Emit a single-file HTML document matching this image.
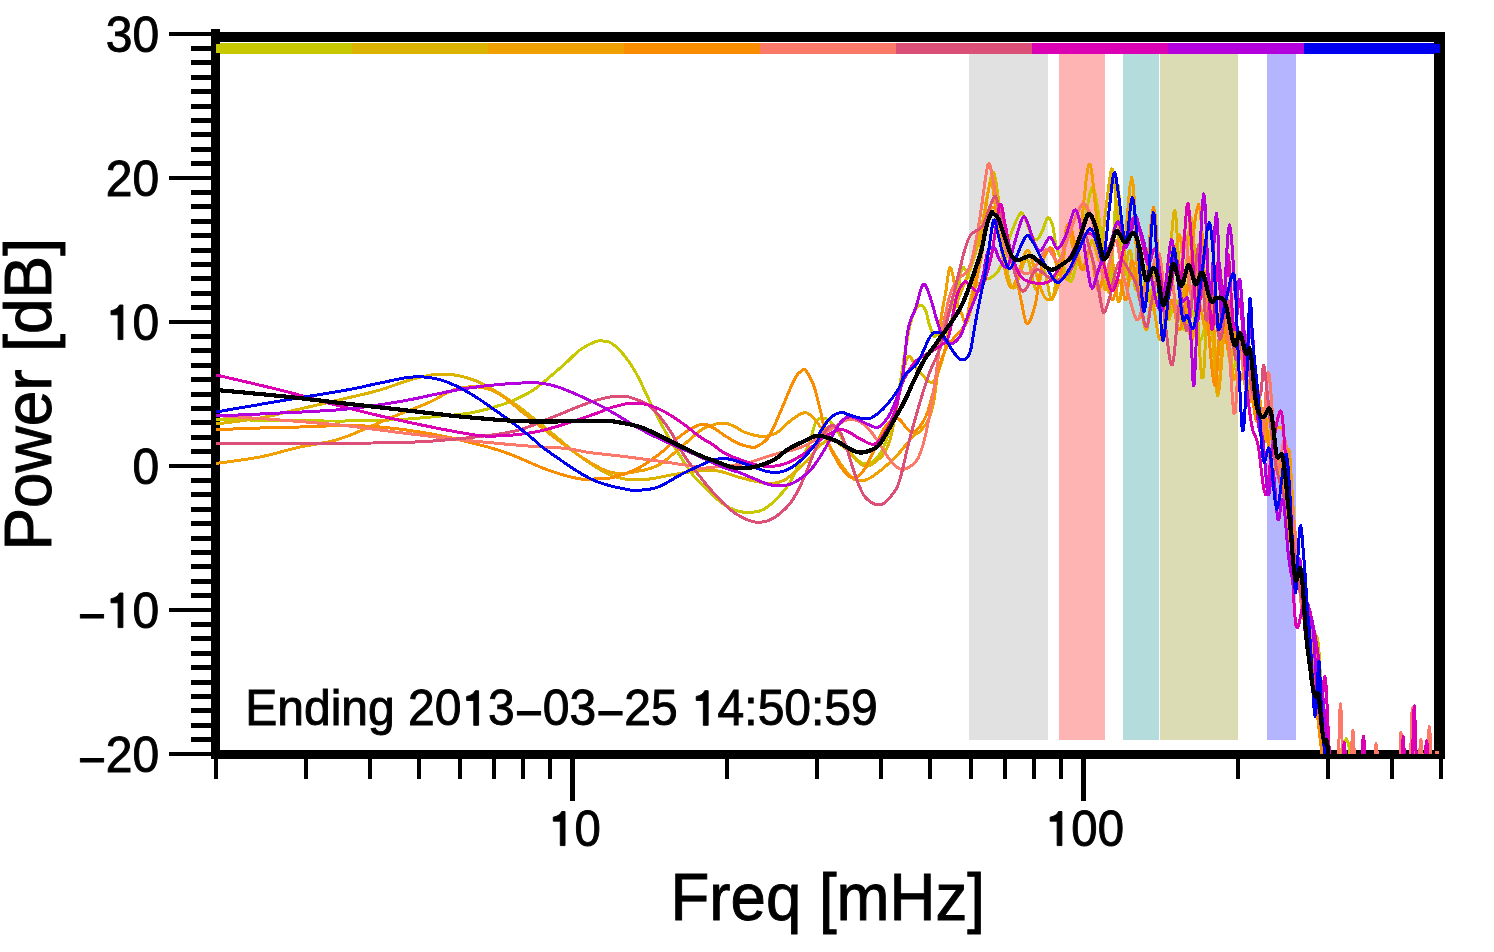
<!DOCTYPE html><html><head><meta charset="utf-8"><style>html,body{margin:0;padding:0;background:#fff;width:1494px;height:952px;overflow:hidden}svg{display:block}</style></head><body><svg width="1494" height="952" viewBox="0 0 1494 952"><defs><clipPath id="clip"><rect x="216" y="37" width="1224" height="717"/></clipPath></defs><rect x="969" y="54" width="79" height="686" fill="#e1e1e1"/><rect x="1059" y="54" width="46" height="686" fill="#ffb4b4"/><rect x="1123" y="54" width="36" height="686" fill="#b4dcdc"/><rect x="1160" y="54" width="78" height="686" fill="#dcdcb4"/><rect x="1267" y="54" width="29" height="686" fill="#b4b4ff"/><rect x="211" y="29" width="9" height="730" fill="#000"/><rect x="211" y="32" width="1234" height="10" fill="#000"/><rect x="1434" y="32" width="11" height="727" fill="#000"/><rect x="211" y="750" width="1234" height="9" fill="#000"/><rect x="220" y="43" width="132" height="11" fill="#c8c800"/><rect x="352" y="43" width="136" height="11" fill="#dcb300"/><rect x="488" y="43" width="136" height="11" fill="#f0a000"/><rect x="624" y="43" width="136" height="11" fill="#fa8c00"/><rect x="760" y="43" width="136" height="11" fill="#fc7868"/><rect x="896" y="43" width="136" height="11" fill="#dc5078"/><rect x="1032" y="43" width="136" height="11" fill="#dc00b4"/><rect x="1168" y="43" width="136" height="11" fill="#b400dc"/><rect x="1304" y="43" width="130" height="11" fill="#0000f0"/><rect x="216" y="44" width="4" height="9" fill="#c8c800"/><rect x="1434" y="44" width="6" height="9" fill="#0000f0"/><g clip-path="url(#clip)"><path d="M216.0,419.3 L223.0,419.4 L232.6,419.6 L243.9,419.9 L256.2,420.1 L268.5,420.3 L280.0,420.5 L290.9,420.6 L302.0,420.8 L313.1,420.9 L324.0,421.0 L334.7,421.0 L345.0,421.0 L354.9,420.9 L364.6,420.7 L374.0,420.5 L383.1,420.2 L391.8,419.9 L400.0,419.5 L407.8,419.0 L415.1,418.5 L422.1,417.8 L428.7,417.2 L435.0,416.6 L441.0,416.0 L446.5,415.5 L451.4,415.2 L455.9,414.8 L460.4,414.4 L465.0,413.8 L470.0,413.0 L475.5,411.9 L481.3,410.6 L487.2,409.1 L493.1,407.4 L498.7,405.7 L504.0,404.0 L508.9,402.2 L513.6,400.3 L518.0,398.3 L522.2,396.2 L526.2,394.1 L530.0,392.0 L533.5,389.8 L536.6,387.7 L539.5,385.4 L542.3,383.1 L545.1,380.8 L548.0,378.4 L551.0,375.9 L554.1,373.2 L557.2,370.5 L560.3,367.9 L563.2,365.3 L566.0,362.8 L568.6,360.4 L570.9,358.1 L573.2,355.9 L575.4,353.8 L577.7,351.8 L580.0,350.0 L582.5,348.3 L585.0,346.7 L587.6,345.3 L590.1,344.0 L592.4,342.9 L594.5,342.0 L596.3,341.4 L597.8,341.0 L599.2,340.9 L600.4,340.9 L601.7,340.9 L603.0,341.0 L604.3,341.1 L605.6,341.1 L606.8,341.2 L608.1,341.6 L609.4,342.1 L611.0,343.0 L612.8,344.2 L614.7,345.7 L616.7,347.4 L618.8,349.4 L620.9,351.6 L623.0,354.0 L625.1,356.5 L627.1,359.2 L629.2,362.1 L631.4,365.3 L633.6,368.9 L636.0,373.0 L638.5,377.7 L641.1,383.0 L643.7,388.6 L646.4,394.5 L649.2,400.3 L652.0,406.0 L654.8,411.5 L657.6,417.0 L660.4,422.5 L663.4,428.0 L666.4,433.5 L669.5,439.0 L672.9,444.7 L676.7,450.7 L680.5,456.7 L684.2,462.4 L687.6,467.4 L690.5,471.6 L692.7,474.7 L694.5,476.9 L696.0,478.5 L697.3,479.8 L698.5,481.0 L700.0,482.5 L701.5,484.1 L703.0,485.7 L704.5,487.2 L706.0,488.7 L707.7,490.3 L709.5,492.0 L711.6,494.0 L713.9,496.1 L716.3,498.3 L718.7,500.5 L721.2,502.5 L723.6,504.3 L726.0,505.8 L728.3,507.1 L730.7,508.3 L733.1,509.4 L735.4,510.3 L737.8,511.0 L740.2,511.6 L742.5,512.0 L744.9,512.3 L747.3,512.5 L749.6,512.5 L752.0,512.3 L754.3,512.0 L756.7,511.6 L759.0,511.1 L761.3,510.3 L763.7,509.3 L766.0,508.0 L768.4,506.3 L770.9,504.2 L773.4,501.9 L775.9,499.5 L778.2,497.1 L780.3,494.8 L782.2,492.8 L783.8,490.9 L785.4,489.0 L786.8,487.1 L788.3,484.9 L789.8,482.5 L791.3,479.7 L792.9,476.7 L794.4,473.5 L795.9,470.1 L797.4,466.8 L799.0,463.6 L800.6,460.5 L802.3,457.4 L804.0,454.4 L805.6,451.3 L807.2,448.1 L808.7,444.7 L810.1,440.9 L811.3,436.6 L812.5,432.3 L813.6,428.1 L814.8,424.5 L816.0,421.8 L817.3,420.1 L818.5,419.0 L819.8,418.6 L821.1,418.4 L822.4,418.5 L823.6,418.6 L824.7,418.7 L825.8,418.8 L826.9,419.2 L828.0,419.8 L829.1,420.7 L830.5,422.0 L832.0,423.8 L833.7,426.0 L835.5,428.5 L837.4,431.2 L839.2,434.0 L841.0,436.7 L842.8,439.5 L844.5,442.4 L846.2,445.4 L848.0,448.4 L849.8,451.1 L851.5,453.5 L853.2,455.6 L855.0,457.6 L856.8,459.4 L858.5,460.9 L860.2,462.1 L862.0,463.0 L863.8,463.6 L865.5,463.9 L867.2,463.9 L869.0,463.7 L870.8,463.0 L872.5,462.0 L874.2,460.7 L876.0,459.0 L877.8,457.1 L879.5,454.7 L881.2,451.8 L883.0,448.3 L884.8,444.1 L886.7,439.1 L888.5,433.7 L890.3,428.0 L892.0,422.3 L893.5,416.8 L894.8,411.6 L895.9,406.5 L896.9,401.4 L897.8,396.2 L898.8,390.8 L899.8,385.0 L900.9,378.7 L901.9,371.8 L903.0,364.7 L904.1,357.7 L905.2,351.0 L906.2,345.0 L907.2,339.6 L908.1,334.5 L909.1,329.8 L910.0,325.4 L911.0,321.5 L912.0,318.0 L913.1,314.9 L914.2,312.1 L915.4,309.8 L916.6,307.9 L917.8,306.4 L918.9,305.5 L920.0,305.1 L921.1,305.2 L922.2,305.8 L923.2,306.7 L924.2,308.1 L925.2,309.7 L926.1,311.9 L926.9,314.7 L927.7,317.9 L928.4,321.1 L929.2,324.2 L930.0,326.7 L930.8,329.0 L931.6,331.4 L932.3,333.5 L933.2,335.2 L934.2,336.2 L935.3,336.2 L936.6,335.1 L938.1,332.9 L939.8,330.1 L941.5,326.8 L943.2,323.4 L945.0,320.0 L946.9,316.6 L948.9,313.1 L950.9,309.3 L952.9,305.4 L954.8,301.4 L956.3,297.3 L957.5,292.7 L958.6,287.6 L959.4,282.3 L960.1,277.3 L960.8,273.1 L961.5,270.0 L962.1,268.2 L962.7,267.4 L963.2,267.3 L963.6,267.7 L964.1,268.4 L964.7,269.0 L965.3,269.7 L966.0,270.8 L966.6,272.0 L967.3,273.5 L968.1,274.9 L968.9,276.3 L969.8,277.8 L970.8,279.5 L971.9,281.2 L973.0,282.8 L974.0,284.2 L975.0,285.0 L975.9,285.3 L976.7,285.2 L977.6,284.8 L978.4,284.2 L979.2,283.5 L980.0,283.0 L980.8,282.5 L981.6,281.9 L982.4,281.3 L983.3,280.7 L984.1,280.1 L985.0,279.6 L985.9,279.3 L986.9,279.0 L987.8,278.9 L988.8,278.7 L989.9,278.3 L991.0,277.6 L992.2,276.7 L993.6,275.7 L995.0,274.5 L996.4,273.2 L997.8,271.6 L999.0,269.7 L1000.1,267.5 L1001.1,265.1 L1002.1,262.4 L1003.1,259.6 L1004.0,256.7 L1005.0,253.7 L1006.0,250.6 L1006.9,247.4 L1007.8,244.0 L1008.8,240.6 L1009.8,237.2 L1011.0,233.8 L1012.4,230.2 L1013.9,226.3 L1015.5,222.3 L1017.1,218.7 L1018.6,215.7 L1019.9,213.8 L1020.9,212.9 L1021.8,212.9 L1022.6,213.6 L1023.3,214.7 L1024.1,216.2 L1024.9,217.8 L1025.8,219.9 L1026.8,222.6 L1027.8,225.7 L1028.9,228.8 L1029.9,231.6 L1030.9,233.8 L1031.9,235.6 L1032.9,237.1 L1033.9,238.4 L1034.9,239.3 L1035.9,239.7 L1036.9,239.7 L1037.9,239.0 L1038.9,237.6 L1039.9,235.9 L1040.9,233.8 L1041.9,231.8 L1042.8,229.8 L1043.7,227.7 L1044.5,225.2 L1045.4,222.7 L1046.2,220.4 L1047.0,218.7 L1047.8,217.8 L1048.7,217.8 L1049.5,218.5 L1050.4,219.8 L1051.3,221.5 L1052.1,223.5 L1052.8,225.8 L1053.4,228.5 L1053.9,231.7 L1054.3,235.3 L1054.8,238.9 L1055.3,242.5 L1056.0,245.7 L1056.8,248.5 L1057.7,251.2 L1058.7,253.7 L1059.7,256.2 L1060.9,258.9 L1062.0,261.7 L1063.2,265.2 L1064.6,269.4 L1066.0,273.6 L1067.4,277.5 L1068.8,280.3 L1070.0,281.6 L1071.1,281.3 L1072.1,279.8 L1073.0,277.4 L1073.9,274.1 L1074.9,270.2 L1076.0,265.7 L1077.2,260.4 L1078.5,254.1 L1079.8,247.1 L1081.2,239.8 L1082.6,232.6 L1083.9,225.8 L1085.3,218.7 L1086.6,210.8 L1088.0,203.0 L1089.4,196.0 L1090.7,190.7 L1091.9,187.9 L1093.0,187.8 L1094.1,189.7 L1095.0,193.4 L1096.0,198.2 L1096.9,203.8 L1097.9,209.8 L1098.9,216.7 L1099.9,225.1 L1100.9,234.2 L1101.8,243.5 L1102.8,252.2 L1103.8,259.7 L1104.8,267.4 L1105.7,276.1 L1106.7,284.3 L1107.7,290.3 L1108.7,292.6 L1109.8,289.6 L1111.0,278.2 L1112.3,258.9 L1113.6,236.0 L1114.9,213.4 L1116.1,195.1 L1117.2,185.3 L1118.1,185.2 L1118.8,191.7 L1119.5,202.7 L1120.1,215.6 L1120.8,228.3 L1121.6,238.3 L1122.6,246.5 L1123.7,255.1 L1124.8,263.3 L1126.0,270.6 L1127.1,276.5 L1128.2,280.3 L1129.2,281.1 L1130.2,279.2 L1131.1,275.9 L1132.1,272.4 L1133.0,270.0 L1134.0,270.0 L1135.0,273.2 L1136.0,278.9 L1137.0,285.6 L1138.0,292.2 L1139.0,297.4 L1140.0,300.0 L1141.0,299.0 L1142.0,295.2 L1143.0,290.0 L1144.0,284.8 L1145.0,281.0 L1146.0,280.0 L1147.0,282.7 L1147.9,288.1 L1148.9,295.0 L1149.9,301.9 L1150.9,307.3 L1152.0,310.0 L1153.2,309.0 L1154.5,305.2 L1155.9,300.0 L1157.3,294.8 L1158.6,291.0 L1160.0,290.0 L1161.3,292.7 L1162.7,298.1 L1164.0,305.0 L1165.3,311.9 L1166.7,317.3 L1168.0,320.0 L1169.3,319.0 L1170.7,315.2 L1172.0,310.0 L1173.3,304.8 L1174.7,301.0 L1176.0,300.0 L1177.3,302.7 L1178.7,308.1 L1180.0,315.0 L1181.3,321.9 L1182.7,327.3 L1184.0,330.0 L1185.3,329.0 L1186.7,325.2 L1188.0,320.0 L1189.3,314.8 L1190.7,311.0 L1192.0,310.0 L1193.3,312.7 L1194.7,318.1 L1196.0,325.0 L1197.3,331.9 L1198.7,337.3 L1200.0,340.0 L1201.3,339.0 L1202.7,335.2 L1204.0,330.0 L1205.3,324.8 L1206.7,321.0 L1208.0,320.0 L1209.3,322.7 L1210.7,328.1 L1212.0,335.0 L1213.3,341.9 L1214.7,347.3 L1216.0,350.0 L1217.3,348.9 L1218.7,344.8 L1220.0,339.4 L1221.3,334.1 L1222.7,330.4 L1224.0,330.0 L1225.3,333.9 L1226.7,341.1 L1228.0,350.0 L1229.3,358.9 L1230.7,366.1 L1232.0,370.0 L1233.3,369.3 L1234.7,365.2 L1236.0,359.4 L1237.3,353.7 L1238.7,350.0 L1240.0,350.0 L1241.3,355.0 L1242.7,363.7 L1244.0,374.4 L1245.3,385.2 L1246.7,394.3 L1248.0,400.0 L1249.3,401.1 L1250.7,398.9 L1252.0,395.0 L1253.3,391.1 L1254.7,388.9 L1256.0,390.0 L1257.3,395.6 L1258.7,404.4 L1260.0,415.0 L1261.3,425.6 L1262.7,434.4 L1264.0,440.0 L1265.3,441.1 L1266.7,438.9 L1268.0,435.0 L1269.3,431.1 L1270.7,428.9 L1272.0,430.0 L1273.3,435.1 L1274.7,443.0 L1276.0,452.5 L1277.3,462.6 L1278.7,472.1 L1280.0,480.0 L1281.3,486.0 L1282.7,491.1 L1284.0,495.6 L1285.3,500.0 L1286.7,504.7 L1288.0,510.0 L1289.3,516.0 L1290.7,522.2 L1292.0,528.8 L1293.3,535.6 L1294.7,542.6 L1296.0,550.0 L1297.4,558.0 L1298.7,566.7 L1300.1,575.6 L1301.5,584.4 L1302.8,592.7 L1304.0,600.0 L1305.1,606.4 L1306.1,612.2 L1307.0,617.5 L1307.9,622.2 L1308.9,626.4 L1310.0,630.0 L1311.2,632.3 L1312.6,633.1 L1314.0,633.4 L1315.4,634.1 L1316.7,636.1 L1317.8,640.5 L1318.7,647.8 L1319.4,657.4 L1320.0,668.4 L1320.6,679.8 L1321.2,690.6 L1322.0,700.0 L1322.9,707.9 L1323.9,715.1 L1324.9,721.8 L1325.9,728.1 L1327.0,734.1 L1328.0,740.0 L1328.9,746.3 L1329.8,753.0 L1330.6,759.4 L1331.5,764.9 L1332.6,768.7 L1334.0,770.0 L1335.7,767.6 L1337.8,761.9 L1340.1,754.4 L1342.4,746.9 L1344.5,741.2 L1346.2,738.9 L1347.6,740.8 L1348.8,745.8 L1349.9,752.5 L1350.7,759.6 L1351.4,765.9 L1352.0,770.0" stroke="#c8c800" stroke-width="3" fill="none" stroke-linejoin="round" shape-rendering="crispEdges"/><path d="M216.0,424.0 L220.8,423.4 L227.6,422.6 L235.5,421.6 L244.0,420.4 L252.4,419.2 L260.0,418.0 L266.8,416.7 L273.4,415.3 L279.9,413.8 L286.4,412.2 L293.1,410.6 L300.0,409.0 L307.3,407.3 L315.0,405.5 L322.8,403.7 L330.6,401.9 L338.0,400.2 L345.0,398.5 L351.4,397.0 L357.5,395.6 L363.2,394.3 L368.9,392.9 L374.4,391.5 L380.0,390.0 L385.7,388.2 L391.3,386.3 L396.9,384.3 L402.4,382.3 L407.8,380.5 L413.0,379.0 L418.0,377.7 L422.9,376.6 L427.6,375.6 L432.1,374.8 L436.6,374.3 L441.0,374.0 L445.3,374.0 L449.4,374.3 L453.4,374.8 L457.3,375.5 L461.2,376.3 L465.0,377.3 L468.6,378.3 L472.1,379.5 L475.5,380.7 L478.9,382.2 L482.5,383.9 L486.5,386.0 L490.8,388.4 L495.3,391.0 L500.0,393.9 L504.9,397.1 L509.9,400.4 L515.0,404.0 L520.2,407.9 L525.7,412.0 L531.2,416.4 L536.8,421.0 L542.4,425.5 L548.0,430.0 L553.5,434.5 L559.0,439.2 L564.6,443.9 L570.1,448.6 L575.6,453.0 L581.0,457.0 L586.4,460.8 L591.9,464.5 L597.2,468.0 L602.6,471.1 L607.9,473.8 L613.0,476.0 L618.0,477.6 L622.9,478.7 L627.7,479.3 L632.4,479.7 L637.2,479.7 L642.0,479.7 L646.8,479.4 L651.7,478.7 L656.5,477.9 L661.4,476.9 L666.2,475.9 L671.0,475.0 L675.9,474.2 L680.9,473.3 L686.0,472.4 L690.8,471.6 L695.5,470.9 L699.7,470.5 L703.5,470.3 L706.8,470.2 L710.0,470.2 L713.0,470.4 L715.9,470.7 L719.0,471.2 L722.2,471.9 L725.3,472.8 L728.4,473.8 L731.5,474.9 L734.7,475.9 L737.8,476.9 L741.0,477.8 L744.3,478.6 L747.5,479.5 L750.7,480.3 L753.8,481.0 L756.7,481.6 L759.4,482.1 L761.8,482.7 L764.2,483.1 L766.4,483.4 L768.7,483.5 L771.0,483.5 L773.4,483.3 L775.7,482.9 L778.0,482.4 L780.3,481.7 L782.7,480.8 L785.0,479.7 L787.4,478.2 L789.8,476.4 L792.3,474.4 L794.7,472.3 L796.9,470.3 L799.0,468.4 L800.9,466.7 L802.6,465.2 L804.1,463.7 L805.7,462.2 L807.2,460.7 L808.7,459.0 L810.2,457.2 L811.7,455.2 L813.2,453.2 L814.7,451.2 L816.3,449.3 L818.0,447.6 L819.8,445.9 L821.7,444.2 L823.6,442.6 L825.7,441.2 L827.8,440.3 L830.0,440.0 L832.3,440.3 L834.7,441.2 L837.2,442.5 L839.7,444.1 L842.3,446.0 L845.0,448.0 L847.8,450.5 L850.7,453.7 L853.6,457.2 L856.6,460.5 L859.4,463.2 L862.0,465.0 L864.4,465.9 L866.6,466.2 L868.6,465.9 L870.7,465.1 L872.8,463.8 L875.0,462.0 L877.4,460.1 L879.8,458.2 L882.3,455.8 L884.8,452.3 L887.4,447.2 L890.0,440.0 L892.7,429.0 L895.5,414.3 L898.4,398.0 L901.1,382.2 L903.8,368.8 L906.2,360.0 L908.3,356.4 L910.2,356.4 L911.9,358.9 L913.6,362.7 L915.3,366.6 L917.2,369.4 L919.3,371.5 L921.5,374.0 L923.8,376.6 L926.0,379.0 L928.1,380.9 L929.8,382.0 L931.2,382.4 L932.3,382.4 L933.2,381.9 L934.0,380.8 L934.9,379.3 L936.0,377.2 L937.3,374.4 L938.7,370.7 L940.1,366.6 L941.5,362.2 L942.8,357.8 L944.0,353.6 L944.9,349.7 L945.7,345.8 L946.4,341.9 L947.1,338.0 L947.8,334.0 L948.7,330.0 L949.7,325.9 L950.9,321.7 L952.1,317.5 L953.3,313.2 L954.7,309.1 L956.0,305.0 L957.4,301.1 L958.9,297.2 L960.4,293.4 L961.9,289.7 L963.5,285.9 L965.0,282.0 L966.5,278.2 L968.0,274.4 L969.6,270.6 L971.1,266.7 L972.6,262.5 L974.0,258.0 L975.4,253.0 L976.8,247.7 L978.2,242.1 L979.5,236.3 L980.8,230.6 L982.0,225.0 L983.1,219.3 L984.2,213.5 L985.2,207.7 L986.1,202.0 L987.1,196.7 L988.0,192.0 L988.9,187.5 L989.8,182.9 L990.6,178.7 L991.4,175.2 L992.2,172.9 L993.0,172.0 L993.8,172.7 L994.5,174.7 L995.2,177.8 L995.9,181.8 L996.7,186.6 L997.5,192.0 L998.4,198.4 L999.2,206.1 L1000.2,214.6 L1001.1,223.4 L1002.0,231.9 L1003.0,239.7 L1004.0,247.2 L1005.0,254.8 L1006.0,262.1 L1007.0,269.0 L1008.0,274.9 L1009.0,279.6 L1010.0,283.1 L1011.0,285.6 L1012.0,287.2 L1013.0,288.0 L1014.0,288.1 L1015.0,287.6 L1016.0,286.0 L1017.0,283.2 L1017.9,279.8 L1018.9,276.0 L1019.9,272.5 L1021.0,269.7 L1022.1,267.1 L1023.2,264.4 L1024.4,261.9 L1025.6,260.0 L1026.8,259.2 L1028.0,260.0 L1029.3,263.3 L1030.6,268.9 L1031.9,275.6 L1033.3,282.2 L1034.7,287.4 L1036.0,290.0 L1037.3,289.0 L1038.7,285.2 L1040.0,280.0 L1041.3,274.8 L1042.7,271.0 L1044.0,270.0 L1045.3,272.9 L1046.7,278.9 L1048.0,286.2 L1049.3,293.3 L1050.7,298.5 L1052.0,300.0 L1053.3,296.7 L1054.7,289.6 L1056.0,280.6 L1057.3,271.5 L1058.7,264.0 L1060.0,260.0 L1061.3,260.4 L1062.7,264.1 L1064.0,269.4 L1065.3,274.8 L1066.7,278.9 L1068.0,280.0 L1069.3,277.3 L1070.7,271.9 L1072.0,265.0 L1073.3,258.1 L1074.7,252.7 L1076.0,250.0 L1077.3,251.0 L1078.7,254.8 L1080.0,260.0 L1081.3,265.2 L1082.7,269.0 L1084.0,270.0 L1085.3,267.3 L1086.7,261.9 L1088.0,255.0 L1089.3,248.1 L1090.7,242.7 L1092.0,240.0 L1093.4,241.3 L1094.7,245.6 L1096.1,251.3 L1097.5,256.7 L1098.8,260.2 L1100.0,260.0 L1101.1,255.6 L1102.1,248.1 L1103.0,238.7 L1103.9,228.4 L1104.8,218.4 L1105.8,209.8 L1106.8,201.6 L1107.9,192.8 L1109.0,184.3 L1110.0,176.9 L1111.0,171.4 L1111.9,168.9 L1112.7,169.4 L1113.3,172.3 L1113.9,177.1 L1114.5,183.6 L1115.2,191.4 L1116.0,200.0 L1116.9,211.2 L1117.9,225.8 L1119.0,241.6 L1120.1,256.6 L1121.2,268.7 L1122.4,276.0 L1123.6,276.8 L1124.9,272.4 L1126.2,265.2 L1127.5,257.6 L1128.8,251.7 L1130.0,250.0 L1131.1,253.5 L1132.0,260.7 L1133.0,269.6 L1133.9,278.7 L1134.9,286.0 L1136.0,290.0 L1137.2,289.6 L1138.6,285.9 L1140.0,280.6 L1141.4,275.2 L1142.8,271.1 L1144.0,270.0 L1145.1,272.9 L1146.1,278.9 L1147.1,286.2 L1148.1,293.3 L1149.0,298.5 L1150.0,300.0 L1151.0,296.5 L1152.0,288.9 L1153.0,279.4 L1154.0,270.0 L1155.0,262.8 L1156.0,260.0 L1157.0,262.7 L1158.0,269.6 L1159.0,278.8 L1160.0,288.1 L1161.0,295.9 L1162.0,300.0 L1163.0,300.7 L1164.0,299.6 L1164.9,296.9 L1165.9,292.6 L1166.9,286.9 L1168.0,280.0 L1169.1,269.4 L1170.3,254.5 L1171.4,238.3 L1172.6,223.6 L1173.8,213.3 L1174.9,210.3 L1176.0,217.4 L1177.0,232.8 L1178.1,252.7 L1179.1,273.1 L1180.1,290.1 L1181.0,300.0 L1181.9,302.2 L1182.7,299.6 L1183.5,293.7 L1184.3,285.9 L1185.1,277.5 L1186.0,270.0 L1186.9,260.5 L1187.9,247.2 L1188.8,233.5 L1189.8,222.3 L1191.0,216.9 L1192.2,220.4 L1193.6,237.4 L1195.3,266.3 L1197.0,301.0 L1198.7,335.2 L1200.4,363.0 L1201.8,378.0 L1203.1,377.4 L1204.2,365.5 L1205.2,347.0 L1206.2,326.7 L1207.1,309.5 L1208.0,300.0 L1208.8,298.3 L1209.4,300.7 L1210.0,306.0 L1210.6,313.3 L1211.2,321.7 L1212.0,330.0 L1212.9,340.6 L1213.8,354.6 L1214.8,369.6 L1215.8,383.2 L1216.9,392.8 L1217.9,396.0 L1218.9,390.2 L1219.9,376.9 L1220.9,359.6 L1222.0,342.0 L1223.0,327.6 L1224.0,320.0 L1225.0,320.8 L1225.9,327.3 L1226.9,337.1 L1227.9,347.6 L1228.9,356.0 L1230.0,360.0 L1231.2,358.0 L1232.5,351.9 L1233.9,343.8 L1235.3,335.9 L1236.6,330.6 L1238.0,330.0 L1239.3,335.7 L1240.7,346.3 L1242.0,359.4 L1243.3,372.6 L1244.7,383.6 L1246.0,390.0 L1247.3,390.4 L1248.7,386.3 L1250.0,380.0 L1251.3,373.7 L1252.7,369.6 L1254.0,370.0 L1255.3,376.2 L1256.7,386.7 L1258.0,399.4 L1259.3,412.2 L1260.7,423.1 L1262.0,430.0 L1263.3,431.7 L1264.7,429.6 L1266.0,425.6 L1267.3,421.5 L1268.7,419.0 L1270.0,420.0 L1271.3,425.2 L1272.7,433.3 L1274.0,443.1 L1275.3,453.3 L1276.7,462.7 L1278.0,470.0 L1279.3,474.6 L1280.7,477.4 L1282.0,479.4 L1283.3,481.5 L1284.7,484.7 L1286.0,490.0 L1287.3,497.9 L1288.7,507.8 L1290.0,518.8 L1291.3,530.0 L1292.7,540.7 L1294.0,550.0 L1295.3,557.7 L1296.7,564.4 L1298.0,570.6 L1299.3,576.7 L1300.7,583.0 L1302.0,590.0 L1303.3,597.6 L1304.7,605.6 L1306.1,613.8 L1307.4,622.2 L1308.7,631.0 L1310.0,640.0 L1311.2,649.8 L1312.5,660.4 L1313.7,671.2 L1314.9,681.9 L1316.0,691.6 L1317.0,700.0 L1317.9,706.6 L1318.8,711.9 L1319.6,716.2 L1320.4,720.4 L1321.2,724.8 L1322.0,730.0 L1322.9,736.6 L1323.9,744.1 L1324.8,751.9 L1325.7,759.3 L1326.5,765.5 L1327.0,770.0" stroke="#dcb300" stroke-width="3" fill="none" stroke-linejoin="round" shape-rendering="crispEdges"/><path d="M216.0,463.4 L220.8,462.7 L227.6,461.9 L235.5,460.8 L244.0,459.6 L252.4,458.3 L260.0,457.0 L266.9,455.5 L273.6,453.9 L280.2,452.1 L286.8,450.3 L293.4,448.6 L300.0,447.0 L306.6,445.7 L313.0,444.6 L319.4,443.6 L325.9,442.4 L332.8,440.9 L340.0,438.8 L347.9,436.0 L356.4,432.6 L365.1,428.8 L373.9,425.0 L382.2,421.3 L390.0,418.0 L397.1,415.2 L403.8,412.5 L410.1,410.1 L416.2,407.7 L422.2,405.3 L428.0,402.9 L433.7,400.2 L439.1,397.3 L444.3,394.3 L449.5,391.7 L454.7,389.5 L460.0,388.0 L465.4,387.2 L470.9,386.8 L476.4,386.8 L482.0,387.5 L487.5,388.7 L493.0,390.6 L498.5,393.4 L504.0,397.1 L509.5,401.3 L515.0,405.9 L520.5,410.6 L526.0,415.0 L531.5,419.3 L537.1,423.7 L542.6,428.2 L548.1,432.6 L553.6,436.9 L559.0,441.0 L564.4,445.0 L569.8,448.9 L575.1,452.7 L580.3,456.3 L585.3,459.5 L590.0,462.4 L594.3,464.9 L598.3,467.1 L602.0,469.0 L605.6,470.6 L609.3,471.9 L613.0,472.8 L616.8,473.3 L620.7,473.5 L624.5,473.3 L628.3,472.9 L632.2,472.3 L636.0,471.6 L639.8,470.9 L643.7,470.2 L647.5,469.2 L651.3,468.1 L655.2,466.6 L659.0,464.7 L662.9,462.2 L666.9,459.3 L670.8,456.0 L674.7,452.5 L678.5,449.2 L682.0,446.2 L685.4,443.4 L688.7,440.5 L691.8,437.8 L694.7,435.3 L697.4,433.0 L699.7,431.2 L701.5,429.8 L702.8,428.9 L703.9,428.3 L704.9,427.8 L706.1,427.4 L707.6,426.8 L709.6,426.1 L711.9,425.3 L714.3,424.5 L716.8,423.8 L719.2,423.3 L721.4,423.0 L723.4,423.0 L725.4,423.3 L727.3,423.7 L729.1,424.2 L730.9,424.9 L732.8,425.6 L734.7,426.5 L736.5,427.6 L738.3,428.7 L740.2,429.9 L742.0,431.0 L744.0,432.0 L746.1,432.8 L748.3,433.5 L750.5,434.2 L752.7,434.8 L754.8,435.3 L756.7,435.7 L758.4,436.0 L759.8,436.3 L761.2,436.5 L762.5,436.6 L764.0,436.5 L765.6,436.3 L767.5,436.0 L769.5,435.5 L771.6,434.9 L773.7,434.1 L775.9,433.2 L778.0,432.0 L780.1,430.5 L782.2,428.6 L784.4,426.4 L786.5,424.3 L788.7,422.3 L790.8,420.5 L793.0,418.9 L795.2,417.3 L797.4,415.9 L799.6,414.6 L801.6,413.6 L803.4,413.0 L805.0,412.8 L806.3,412.9 L807.5,413.2 L808.7,413.8 L809.8,414.6 L811.0,415.5 L812.3,416.6 L813.6,418.0 L814.9,419.5 L816.2,421.1 L817.4,422.8 L818.5,424.3 L819.5,425.7 L820.3,426.9 L821.0,428.1 L821.7,429.5 L822.6,431.1 L823.6,433.0 L824.8,435.3 L826.0,437.9 L827.3,440.8 L828.7,443.8 L830.3,446.9 L832.0,450.0 L833.9,453.3 L836.1,456.8 L838.3,460.4 L840.6,464.0 L842.9,467.2 L845.0,470.0 L846.9,472.4 L848.7,474.5 L850.4,476.4 L852.2,477.9 L854.0,479.1 L856.0,480.0 L858.0,480.6 L860.1,480.9 L862.2,480.8 L864.5,480.4 L867.1,479.5 L870.0,478.0 L873.4,475.9 L877.3,473.0 L881.5,469.8 L885.7,466.2 L889.8,462.5 L893.6,459.0 L897.1,455.3 L900.7,451.3 L904.0,447.2 L907.2,443.3 L910.0,439.8 L912.5,437.0 L914.4,435.1 L915.9,434.1 L917.0,433.4 L918.1,432.9 L919.1,432.1 L920.4,430.8 L921.9,429.1 L923.5,427.3 L925.2,425.3 L926.8,422.9 L928.4,420.1 L929.8,416.6 L931.0,412.7 L932.2,408.5 L933.2,403.8 L934.2,398.4 L935.1,392.2 L936.0,385.0 L936.8,376.1 L937.6,365.6 L938.3,354.3 L939.0,343.0 L939.7,332.5 L940.5,323.6 L941.4,316.5 L942.3,310.5 L943.2,305.4 L944.1,300.8 L945.0,296.4 L945.8,292.0 L946.5,287.3 L947.1,282.6 L947.7,278.1 L948.3,274.2 L948.8,271.0 L949.4,268.9 L949.9,267.9 L950.4,267.7 L950.9,268.3 L951.4,269.7 L952.0,271.7 L952.6,274.2 L953.3,277.8 L954.1,282.6 L954.9,288.0 L955.7,293.5 L956.5,298.5 L957.3,302.5 L958.0,305.3 L958.7,307.3 L959.4,308.9 L960.1,310.2 L960.8,311.5 L961.5,313.0 L962.2,315.0 L962.9,317.5 L963.6,319.9 L964.3,321.9 L965.0,323.1 L965.7,323.0 L966.4,321.5 L967.0,318.8 L967.7,315.3 L968.3,311.3 L969.1,306.9 L970.0,302.5 L971.1,298.1 L972.2,293.5 L973.5,288.7 L974.8,283.4 L976.1,277.5 L977.3,271.0 L978.4,263.5 L979.6,255.0 L980.7,245.9 L981.8,236.8 L982.9,228.0 L984.0,220.0 L985.2,212.0 L986.3,203.6 L987.5,195.5 L988.7,188.6 L989.9,183.8 L991.0,182.0 L992.0,183.8 L993.0,188.5 L993.9,195.4 L994.9,203.5 L995.9,211.9 L997.0,219.8 L998.2,227.8 L999.6,236.7 L1001.0,246.0 L1002.4,255.0 L1003.8,263.1 L1005.0,269.7 L1006.1,274.9 L1007.1,279.1 L1008.1,282.4 L1009.1,284.9 L1010.0,286.6 L1011.0,287.6 L1012.0,287.7 L1012.9,286.8 L1013.9,285.2 L1014.9,283.0 L1015.9,280.4 L1017.0,277.6 L1018.3,274.2 L1019.7,269.9 L1021.1,265.2 L1022.6,260.6 L1023.9,256.6 L1025.0,253.7 L1025.9,251.9 L1026.6,250.7 L1027.1,250.1 L1027.7,250.1 L1028.3,250.6 L1029.0,251.7 L1029.9,253.5 L1030.8,256.0 L1031.7,259.1 L1032.7,262.5 L1033.8,266.1 L1034.9,269.7 L1036.1,273.5 L1037.5,277.9 L1038.8,282.4 L1040.2,286.7 L1041.6,290.6 L1042.8,293.6 L1043.9,295.8 L1044.9,297.4 L1045.9,298.5 L1046.9,299.2 L1047.8,299.5 L1048.8,299.6 L1049.8,299.5 L1050.8,299.1 L1051.8,298.5 L1052.9,297.3 L1053.9,295.8 L1055.0,293.6 L1056.1,290.9 L1057.3,287.7 L1058.5,284.1 L1059.7,279.9 L1060.9,275.2 L1062.0,270.0 L1063.0,263.3 L1064.0,254.9 L1064.9,246.0 L1065.9,237.7 L1066.8,231.2 L1067.8,227.7 L1068.8,228.1 L1069.8,231.7 L1070.9,237.1 L1071.9,242.9 L1073.0,247.7 L1074.0,250.0 L1075.0,250.3 L1075.9,249.8 L1076.8,248.3 L1077.8,245.5 L1078.8,241.1 L1080.0,235.0 L1081.3,225.2 L1082.8,211.7 L1084.4,196.6 L1085.9,182.2 L1087.4,170.8 L1088.8,164.7 L1090.0,164.4 L1091.1,168.3 L1092.1,175.1 L1093.1,183.9 L1094.1,193.4 L1095.1,202.5 L1096.2,212.3 L1097.3,223.8 L1098.4,236.0 L1099.4,248.1 L1100.4,258.9 L1101.4,267.6 L1102.2,274.4 L1103.0,280.2 L1103.7,284.7 L1104.4,288.0 L1105.2,289.8 L1106.0,290.0 L1106.9,287.2 L1107.8,281.3 L1108.8,273.9 L1109.8,266.8 L1110.9,261.6 L1112.0,260.0 L1113.2,264.5 L1114.4,274.2 L1115.6,285.8 L1117.0,296.1 L1118.4,301.9 L1120.0,300.0 L1121.8,286.4 L1123.8,262.9 L1125.9,234.9 L1128.0,207.8 L1129.9,186.9 L1131.6,177.6 L1132.9,182.3 L1134.1,197.0 L1135.0,218.0 L1135.9,241.4 L1136.9,263.4 L1138.0,280.0 L1139.3,292.3 L1140.6,303.5 L1142.0,313.3 L1143.4,321.2 L1144.8,326.9 L1146.0,330.0 L1147.1,328.8 L1148.1,323.3 L1149.0,315.6 L1149.9,307.8 L1150.9,301.9 L1152.0,300.0 L1153.2,303.5 L1154.5,311.1 L1155.9,320.6 L1157.3,330.0 L1158.6,337.2 L1160.0,340.0 L1161.3,338.3 L1162.5,333.5 L1163.8,326.6 L1165.1,318.2 L1166.5,309.0 L1168.0,300.0 L1169.8,289.1 L1171.8,275.3 L1173.9,260.9 L1176.0,247.9 L1177.9,238.5 L1179.5,234.9 L1180.7,238.5 L1181.7,247.9 L1182.5,260.9 L1183.3,275.3 L1184.1,289.1 L1185.0,300.0 L1186.1,309.0 L1187.3,318.2 L1188.5,326.6 L1189.7,333.5 L1190.9,338.3 L1192.0,340.0 L1193.0,337.2 L1194.0,330.0 L1194.9,320.6 L1195.9,311.1 L1196.9,303.5 L1198.0,300.0 L1199.2,301.6 L1200.6,307.0 L1202.0,314.4 L1203.4,321.9 L1204.8,327.7 L1206.0,330.0 L1207.1,327.0 L1208.1,319.9 L1209.1,311.1 L1210.1,303.1 L1211.0,298.6 L1212.0,300.0 L1213.0,310.3 L1213.9,328.0 L1214.9,349.2 L1215.9,369.7 L1216.9,385.7 L1218.0,393.0 L1219.2,388.9 L1220.5,376.0 L1221.9,358.6 L1223.3,340.6 L1224.6,326.4 L1226.0,320.0 L1227.3,323.5 L1228.7,333.9 L1230.0,347.9 L1231.3,362.5 L1232.7,374.2 L1234.0,380.0 L1235.3,378.0 L1236.7,370.4 L1238.0,360.0 L1239.3,349.6 L1240.7,342.0 L1242.0,340.0 L1243.3,345.0 L1244.7,355.2 L1246.0,368.1 L1247.3,381.5 L1248.7,392.9 L1250.0,400.0 L1251.3,401.7 L1252.7,399.6 L1254.0,395.6 L1255.3,391.5 L1256.7,389.0 L1258.0,390.0 L1259.3,395.6 L1260.7,404.4 L1262.0,415.0 L1263.3,425.6 L1264.7,434.4 L1266.0,440.0 L1267.3,441.7 L1268.6,440.7 L1269.9,438.1 L1271.3,434.7 L1272.6,431.7 L1274.0,430.0 L1275.5,429.1 L1277.1,428.1 L1278.8,427.4 L1280.3,427.4 L1281.8,428.5 L1283.0,431.0 L1284.0,436.0 L1284.8,443.3 L1285.4,451.8 L1286.0,459.9 L1286.5,466.4 L1287.0,470.0 L1287.5,469.2 L1287.8,464.7 L1288.1,458.6 L1288.4,453.0 L1288.8,449.7 L1289.3,451.0 L1290.0,457.7 L1290.7,468.6 L1291.5,481.8 L1292.4,495.9 L1293.2,509.2 L1294.0,520.0 L1294.7,528.3 L1295.2,535.5 L1295.8,541.8 L1296.4,547.7 L1297.1,553.7 L1298.0,560.0 L1299.1,566.4 L1300.4,572.6 L1301.8,578.8 L1303.2,585.2 L1304.6,592.2 L1306.0,600.0 L1307.4,609.1 L1308.7,619.3 L1310.1,630.0 L1311.5,640.7 L1312.8,650.9 L1314.0,660.0 L1315.1,667.6 L1316.1,674.1 L1317.1,680.0 L1318.1,685.9 L1319.0,692.4 L1320.0,700.0 L1321.1,709.5 L1322.2,720.7 L1323.4,732.5 L1324.4,743.7 L1325.3,753.2 L1326.0,760.0" stroke="#f0a000" stroke-width="3" fill="none" stroke-linejoin="round" shape-rendering="crispEdges"/><path d="M216.0,429.7 L220.8,429.5 L227.6,429.2 L235.5,428.9 L244.0,428.6 L252.4,428.3 L260.0,428.0 L266.8,427.8 L273.4,427.6 L279.9,427.5 L286.4,427.3 L293.1,427.2 L300.0,427.0 L307.3,426.8 L315.0,426.5 L322.8,426.1 L330.6,425.9 L338.0,425.7 L345.0,425.6 L351.4,425.6 L357.2,425.7 L362.8,425.9 L368.3,426.2 L374.0,426.5 L380.0,427.0 L386.4,427.6 L393.0,428.3 L399.7,429.1 L406.5,430.0 L413.3,431.0 L420.0,432.0 L426.6,433.1 L433.2,434.3 L439.8,435.6 L446.4,436.9 L453.1,438.4 L460.0,440.0 L467.1,441.7 L474.4,443.5 L481.8,445.4 L489.2,447.4 L496.6,449.6 L504.0,452.0 L511.5,454.8 L519.1,457.9 L526.7,461.2 L534.1,464.4 L541.3,467.5 L548.0,470.0 L554.3,472.1 L560.2,474.0 L565.9,475.7 L571.2,477.1 L576.3,478.2 L581.0,479.0 L585.4,479.4 L589.6,479.4 L593.4,479.1 L597.0,478.7 L600.2,478.3 L603.0,478.0 L605.2,478.0 L606.7,478.0 L607.9,478.1 L609.1,478.1 L610.7,477.9 L613.0,477.4 L616.1,476.6 L619.7,475.5 L623.7,474.2 L627.9,472.8 L632.0,471.1 L636.0,469.3 L639.8,467.3 L643.7,465.0 L647.5,462.5 L651.3,459.9 L655.2,457.1 L659.0,454.3 L662.9,451.2 L666.9,447.7 L670.8,444.2 L674.7,440.7 L678.5,437.5 L682.0,434.7 L685.3,432.4 L688.5,430.2 L691.6,428.4 L694.5,426.9 L697.2,425.7 L699.7,424.8 L701.9,424.3 L703.8,424.3 L705.6,424.5 L707.3,425.0 L709.0,425.7 L711.0,426.6 L713.2,427.7 L715.5,429.2 L717.9,430.8 L720.3,432.5 L722.7,434.2 L725.0,435.7 L727.2,437.1 L729.4,438.5 L731.5,439.8 L733.6,441.0 L735.7,442.2 L737.8,443.2 L740.0,444.1 L742.2,444.9 L744.4,445.6 L746.6,446.2 L748.6,446.7 L750.4,447.0 L751.9,447.2 L753.2,447.3 L754.3,447.3 L755.4,447.0 L756.6,446.6 L758.0,445.8 L759.7,444.8 L761.5,443.7 L763.4,442.4 L765.4,440.7 L767.4,438.5 L769.4,435.7 L771.4,432.1 L773.5,427.8 L775.6,423.0 L777.8,418.0 L779.9,412.9 L782.0,408.0 L784.2,403.0 L786.4,397.7 L788.6,392.3 L790.8,387.2 L792.8,382.7 L794.6,379.0 L796.2,376.3 L797.6,374.4 L798.8,373.0 L800.0,372.1 L801.0,371.4 L802.0,370.7 L802.8,370.1 L803.5,369.6 L804.0,369.3 L804.5,369.3 L805.2,369.8 L806.0,370.7 L807.1,372.2 L808.3,374.1 L809.6,376.4 L811.0,379.1 L812.3,381.9 L813.5,385.0 L814.6,388.3 L815.7,392.0 L816.8,396.0 L817.8,400.0 L818.8,404.1 L819.8,408.0 L820.7,411.9 L821.6,415.8 L822.4,419.7 L823.2,423.5 L824.0,427.2 L824.8,430.6 L825.6,433.6 L826.3,436.4 L827.0,439.0 L827.8,441.5 L828.8,444.1 L830.0,447.0 L831.5,450.3 L833.3,453.8 L835.2,457.5 L837.2,461.0 L839.1,464.4 L841.0,467.2 L842.8,469.7 L844.5,472.0 L846.3,474.0 L848.0,475.7 L849.8,477.0 L851.5,477.7 L853.2,477.9 L855.0,477.6 L856.8,476.9 L858.5,475.8 L860.2,474.3 L862.0,472.4 L863.8,470.1 L865.5,467.3 L867.2,464.1 L869.0,460.6 L870.8,457.1 L872.5,453.5 L874.2,449.8 L876.0,445.7 L877.7,441.5 L879.5,437.4 L881.2,433.7 L883.0,430.4 L884.8,427.6 L886.7,425.0 L888.6,422.7 L890.4,420.8 L892.1,419.3 L893.6,418.2 L894.8,417.6 L895.8,417.4 L896.7,417.6 L897.6,418.1 L898.6,418.9 L900.0,420.0 L901.7,421.8 L903.7,424.3 L905.9,427.2 L908.1,429.8 L910.3,431.8 L912.5,432.4 L914.6,431.7 L916.8,430.0 L919.0,427.6 L921.2,424.7 L923.2,421.5 L925.0,418.2 L926.6,414.7 L928.0,410.8 L929.3,406.7 L930.5,402.3 L931.7,397.7 L933.0,393.0 L934.3,388.0 L935.6,382.5 L937.0,376.9 L938.3,371.3 L939.6,366.1 L940.9,361.5 L942.3,357.4 L943.7,353.6 L945.2,350.2 L946.5,347.1 L947.7,344.6 L948.7,342.6 L949.4,341.4 L949.7,341.1 L949.9,341.3 L950.1,341.6 L950.4,341.8 L951.0,341.4 L951.8,340.5 L952.8,339.4 L953.8,338.1 L955.0,336.8 L956.1,335.4 L957.3,334.0 L958.5,332.7 L959.8,331.5 L961.1,330.2 L962.3,328.8 L963.6,327.3 L964.7,325.7 L965.7,323.9 L966.7,322.1 L967.6,320.1 L968.4,318.0 L969.2,315.6 L970.0,313.0 L970.8,310.0 L971.5,306.6 L972.1,303.0 L972.8,299.3 L973.4,295.6 L974.1,292.0 L974.8,288.5 L975.5,285.0 L976.2,281.5 L976.9,278.0 L977.6,274.5 L978.3,271.0 L979.0,267.7 L979.7,264.5 L980.4,261.4 L981.1,258.0 L981.8,254.3 L982.5,250.0 L983.2,244.6 L983.8,238.3 L984.4,231.5 L985.1,225.0 L985.9,219.3 L987.0,215.0 L988.4,212.0 L990.0,209.6 L991.8,208.1 L993.6,207.5 L995.4,208.1 L997.0,209.8 L998.4,213.3 L999.7,218.5 L1001.0,224.8 L1002.3,231.5 L1003.6,238.1 L1005.0,243.7 L1006.6,248.4 L1008.3,252.8 L1010.1,256.9 L1011.9,261.0 L1013.5,265.2 L1015.0,269.7 L1016.2,274.5 L1017.3,279.6 L1018.2,284.8 L1019.1,289.9 L1020.0,294.9 L1021.0,299.6 L1022.0,304.4 L1022.9,309.6 L1023.9,314.5 L1024.9,318.9 L1025.9,322.0 L1027.0,323.5 L1028.2,323.1 L1029.6,321.3 L1031.0,318.3 L1032.4,314.4 L1033.8,310.1 L1035.0,305.6 L1036.1,300.5 L1037.1,294.3 L1038.0,287.7 L1038.9,281.0 L1039.8,274.9 L1040.8,269.7 L1041.8,265.5 L1042.8,261.8 L1043.8,258.6 L1044.8,255.9 L1045.8,253.6 L1046.8,251.7 L1047.8,250.1 L1048.8,248.8 L1049.7,248.0 L1050.7,247.8 L1051.7,248.3 L1052.8,249.7 L1053.9,253.2 L1055.2,258.7 L1056.4,265.0 L1057.6,270.8 L1058.9,274.5 L1060.0,275.0 L1061.1,271.1 L1062.2,263.6 L1063.2,254.2 L1064.2,244.4 L1065.1,235.8 L1066.0,229.8 L1066.8,226.5 L1067.5,224.8 L1068.1,224.1 L1068.7,224.3 L1069.4,225.0 L1070.0,225.8 L1070.6,226.9 L1071.2,228.5 L1071.8,230.6 L1072.4,233.2 L1073.1,236.2 L1074.0,239.7 L1075.1,244.4 L1076.4,250.4 L1077.8,257.0 L1079.2,263.0 L1080.6,267.7 L1082.0,270.0 L1083.3,268.9 L1084.7,264.8 L1086.0,259.4 L1087.3,254.1 L1088.7,250.4 L1090.0,250.0 L1091.3,253.9 L1092.7,261.1 L1094.0,270.0 L1095.3,278.9 L1096.7,286.1 L1098.0,290.0 L1099.4,289.6 L1100.7,285.9 L1102.1,280.6 L1103.5,275.2 L1104.8,271.1 L1106.0,270.0 L1107.1,272.7 L1108.1,278.1 L1109.0,285.0 L1109.9,291.9 L1110.9,297.3 L1112.0,300.0 L1113.2,299.1 L1114.6,295.6 L1116.0,290.6 L1117.4,285.6 L1118.8,281.6 L1120.0,280.0 L1121.1,281.7 L1122.1,285.9 L1123.1,291.2 L1124.1,296.3 L1125.0,299.7 L1126.0,300.0 L1127.0,295.9 L1127.9,288.1 L1128.9,278.8 L1129.9,269.6 L1130.9,262.7 L1132.0,260.0 L1133.2,262.7 L1134.6,269.6 L1136.0,278.8 L1137.4,288.1 L1138.8,295.9 L1140.0,300.0 L1141.1,300.7 L1142.1,299.7 L1143.0,297.0 L1144.0,292.8 L1144.9,287.1 L1146.0,280.0 L1147.2,269.3 L1148.5,254.3 L1149.8,237.9 L1151.1,222.8 L1152.4,211.7 L1153.6,207.4 L1154.7,211.5 L1155.8,222.1 L1156.9,236.7 L1157.9,252.8 L1159.0,268.1 L1160.0,280.0 L1161.0,289.2 L1162.0,298.0 L1163.0,305.8 L1164.0,312.3 L1165.0,317.2 L1166.0,320.0 L1167.0,319.6 L1168.0,315.9 L1168.9,310.6 L1169.9,305.2 L1170.9,301.1 L1172.0,300.0 L1173.1,302.8 L1174.3,308.5 L1175.4,315.6 L1176.6,322.6 L1177.8,327.9 L1179.0,330.0 L1180.1,329.2 L1181.1,326.9 L1182.2,322.8 L1183.3,317.1 L1184.5,309.5 L1186.0,300.0 L1187.8,285.7 L1189.9,266.0 L1192.2,244.5 L1194.5,224.7 L1196.6,210.2 L1198.5,204.6 L1200.0,209.6 L1201.3,222.6 L1202.5,241.0 L1203.6,261.9 L1204.7,282.5 L1206.0,300.0 L1207.4,316.8 L1209.0,335.6 L1210.5,354.1 L1212.1,370.1 L1213.6,381.4 L1215.0,385.6 L1216.3,379.7 L1217.5,364.7 L1218.7,345.0 L1219.8,324.8 L1220.9,308.4 L1222.0,300.0 L1223.1,301.3 L1224.1,309.2 L1225.1,320.9 L1226.0,333.5 L1227.0,344.1 L1228.0,350.0 L1229.0,349.9 L1230.0,345.9 L1231.0,340.0 L1232.0,334.1 L1233.0,330.1 L1234.0,330.0 L1235.0,335.1 L1235.9,344.1 L1236.9,355.0 L1237.9,365.9 L1238.9,374.9 L1240.0,380.0 L1241.2,379.8 L1242.5,375.6 L1243.9,369.4 L1245.3,363.3 L1246.6,359.5 L1248.0,360.0 L1249.3,366.2 L1250.7,376.7 L1252.0,389.4 L1253.3,402.2 L1254.7,413.1 L1256.0,420.0 L1257.3,421.6 L1258.7,419.3 L1260.0,415.0 L1261.3,410.7 L1262.7,408.4 L1264.0,410.0 L1265.3,416.8 L1266.7,427.4 L1268.0,440.0 L1269.3,452.6 L1270.7,463.2 L1272.0,470.0 L1273.3,471.5 L1274.7,468.9 L1276.0,464.4 L1277.3,460.0 L1278.7,457.8 L1280.0,460.0 L1281.3,467.5 L1282.7,478.9 L1284.0,492.5 L1285.3,506.7 L1286.7,519.7 L1288.0,530.0 L1289.3,537.0 L1290.7,541.9 L1292.0,545.6 L1293.3,549.3 L1294.7,553.7 L1296.0,560.0 L1297.3,568.5 L1298.7,578.5 L1300.0,589.4 L1301.3,600.4 L1302.7,610.8 L1304.0,620.0 L1305.4,627.6 L1306.7,634.1 L1308.1,640.0 L1309.5,645.9 L1310.8,652.4 L1312.0,660.0 L1313.1,669.0 L1314.1,678.9 L1315.1,689.4 L1316.1,700.0 L1317.0,710.3 L1318.0,720.0 L1319.1,729.5 L1320.2,739.3 L1321.4,748.8 L1322.4,757.4 L1323.3,764.7 L1324.0,770.0" stroke="#fa8c00" stroke-width="3" fill="none" stroke-linejoin="round" shape-rendering="crispEdges"/><path d="M216.0,415.5 L223.0,416.0 L232.6,416.6 L243.9,417.4 L256.2,418.3 L268.5,419.1 L280.0,420.0 L290.9,420.8 L301.9,421.7 L312.9,422.6 L323.8,423.6 L334.6,424.5 L345.0,425.6 L355.0,426.7 L364.5,427.9 L373.9,429.2 L383.3,430.4 L392.9,431.7 L403.0,433.0 L413.8,434.3 L425.0,435.6 L436.5,437.0 L448.0,438.3 L459.2,439.6 L470.0,440.7 L480.4,441.8 L490.7,442.7 L500.8,443.7 L510.5,444.5 L519.6,445.3 L528.0,446.0 L535.7,446.6 L542.7,447.0 L549.1,447.3 L555.1,447.7 L560.7,448.0 L566.0,448.5 L570.7,449.1 L574.6,449.8 L578.2,450.5 L581.7,451.2 L585.5,451.9 L590.0,452.6 L595.2,453.3 L600.8,453.9 L606.7,454.6 L612.7,455.2 L618.7,455.9 L624.6,456.6 L630.3,457.3 L636.1,458.1 L641.8,458.8 L647.5,459.6 L653.2,460.4 L659.0,461.2 L665.1,462.1 L671.7,463.0 L678.3,464.0 L684.5,464.9 L689.8,465.7 L694.0,466.4 L696.5,467.0 L697.7,467.4 L698.0,467.8 L698.1,468.1 L698.6,468.3 L700.0,468.4 L702.4,468.3 L705.4,468.1 L708.7,467.7 L712.2,467.3 L715.7,466.9 L719.0,466.5 L722.2,466.2 L725.5,465.9 L728.7,465.6 L731.9,465.3 L734.9,465.0 L737.8,464.6 L740.4,464.2 L742.9,463.8 L745.2,463.3 L747.5,462.8 L749.7,462.3 L752.0,461.7 L754.3,461.0 L756.7,460.2 L759.0,459.4 L761.3,458.6 L763.7,457.8 L766.0,457.0 L768.4,456.3 L770.7,455.5 L773.1,454.8 L775.5,454.1 L777.9,453.4 L780.3,452.8 L782.7,452.2 L785.0,451.7 L787.4,451.2 L789.8,450.7 L792.1,450.2 L794.5,449.5 L796.9,448.7 L799.3,447.9 L801.8,446.9 L804.2,445.9 L806.5,444.9 L808.7,443.8 L810.7,442.6 L812.5,441.4 L814.2,440.2 L816.0,438.8 L817.9,437.4 L820.0,436.0 L822.4,434.4 L825.1,432.7 L828.0,431.0 L830.8,429.3 L833.4,427.6 L835.8,426.2 L837.9,424.9 L839.7,423.6 L841.4,422.5 L843.0,421.4 L844.6,420.6 L846.3,420.0 L848.1,419.6 L849.8,419.4 L851.6,419.4 L853.3,419.5 L855.1,419.9 L856.8,420.4 L858.5,421.1 L860.2,422.0 L861.9,423.0 L863.6,424.3 L865.3,425.7 L867.0,427.3 L868.8,429.2 L870.6,431.3 L872.4,433.5 L874.2,436.0 L876.0,438.5 L877.8,441.0 L879.5,443.7 L881.2,446.5 L882.9,449.5 L884.7,452.4 L886.4,455.2 L888.3,457.7 L890.3,460.1 L892.3,462.6 L894.4,464.9 L896.5,466.9 L898.7,468.5 L900.9,469.3 L903.2,469.4 L905.6,468.8 L908.0,467.8 L910.4,466.4 L912.6,464.7 L914.5,463.0 L916.1,461.2 L917.5,459.2 L918.7,456.9 L919.7,454.4 L920.8,451.5 L921.9,448.3 L923.0,444.8 L924.0,441.2 L925.0,437.2 L926.0,432.7 L927.1,427.7 L928.2,422.0 L929.5,415.2 L930.8,407.4 L932.2,399.1 L933.6,390.6 L934.9,382.4 L936.0,375.0 L936.9,368.3 L937.7,361.9 L938.4,355.9 L939.1,350.1 L939.7,344.6 L940.5,339.3 L941.3,334.3 L942.2,329.6 L943.1,325.2 L944.0,321.0 L944.9,317.0 L945.8,313.0 L946.6,309.1 L947.4,305.4 L948.2,301.8 L949.0,298.3 L949.9,295.1 L951.0,292.0 L952.3,289.1 L953.7,286.2 L955.2,283.5 L956.7,281.1 L958.1,279.0 L959.4,277.3 L960.5,276.2 L961.4,275.6 L962.2,275.4 L963.0,275.2 L963.9,274.9 L964.7,274.2 L965.6,273.2 L966.5,272.1 L967.4,270.8 L968.3,269.3 L969.2,267.7 L970.0,265.8 L970.7,263.8 L971.4,261.6 L972.0,259.3 L972.7,256.6 L973.3,253.6 L974.1,250.0 L974.9,245.9 L975.8,241.4 L976.8,236.5 L977.7,231.2 L978.7,225.5 L979.7,219.4 L980.7,212.4 L981.9,204.5 L983.0,196.1 L984.1,188.0 L985.1,180.8 L986.0,175.2 L986.7,171.1 L987.2,167.9 L987.7,165.7 L988.1,164.3 L988.6,163.6 L989.1,163.7 L989.7,164.6 L990.3,166.4 L990.9,168.9 L991.5,172.1 L992.2,175.8 L993.0,180.0 L993.9,184.9 L994.8,190.7 L995.9,197.1 L996.9,203.6 L998.0,209.9 L999.0,215.8 L1000.0,221.3 L1001.0,226.7 L1002.0,232.0 L1003.0,237.0 L1004.0,241.6 L1005.0,245.7 L1006.0,249.3 L1006.9,252.4 L1007.9,255.1 L1008.9,257.5 L1009.9,259.7 L1011.0,261.7 L1012.2,263.5 L1013.5,265.1 L1014.8,266.4 L1016.2,267.6 L1017.6,268.7 L1018.9,269.7 L1020.2,270.7 L1021.6,271.7 L1022.9,272.6 L1024.2,273.3 L1025.6,273.7 L1026.9,273.7 L1028.2,273.4 L1029.6,272.7 L1030.9,271.8 L1032.2,270.7 L1033.6,269.3 L1034.9,267.7 L1036.2,265.7 L1037.6,263.3 L1039.0,260.6 L1040.3,257.9 L1041.6,255.5 L1042.8,253.7 L1043.9,252.3 L1044.8,251.0 L1045.7,250.1 L1046.6,249.5 L1047.6,249.3 L1048.8,249.7 L1050.2,251.1 L1051.7,253.6 L1053.3,256.6 L1054.9,259.3 L1056.5,261.3 L1058.0,261.7 L1059.4,260.6 L1060.7,258.3 L1062.0,255.2 L1063.2,251.5 L1064.6,247.6 L1066.0,243.7 L1067.6,239.4 L1069.3,234.5 L1071.0,229.4 L1072.7,224.3 L1074.4,219.6 L1076.0,215.8 L1077.4,212.6 L1078.8,209.6 L1080.1,207.1 L1081.3,205.1 L1082.6,204.0 L1083.9,203.8 L1085.3,204.7 L1086.6,206.5 L1088.0,209.2 L1089.4,212.4 L1090.7,216.0 L1091.9,219.8 L1093.0,224.0 L1094.1,228.8 L1095.0,234.0 L1096.0,239.4 L1096.9,244.7 L1097.9,249.7 L1098.9,255.0 L1099.9,260.8 L1100.8,266.6 L1101.8,271.7 L1102.8,275.6 L1103.8,277.6 L1104.8,277.3 L1105.9,275.2 L1106.9,271.8 L1107.9,267.7 L1109.0,263.6 L1110.0,260.0 L1111.0,256.2 L1112.0,251.7 L1113.0,247.0 L1114.0,243.1 L1115.0,240.5 L1116.0,240.0 L1117.0,242.1 L1117.9,246.3 L1118.9,251.9 L1119.9,258.1 L1120.9,264.4 L1122.0,270.0 L1123.2,275.1 L1124.5,280.4 L1125.9,285.6 L1127.3,290.7 L1128.6,295.6 L1130.0,300.0 L1131.3,304.5 L1132.7,309.3 L1134.0,313.8 L1135.3,317.4 L1136.7,319.7 L1138.0,320.0 L1139.4,317.8 L1140.7,313.3 L1142.1,307.5 L1143.5,301.1 L1144.8,295.0 L1146.0,290.0 L1147.1,286.0 L1148.1,282.5 L1149.0,279.1 L1150.0,276.0 L1151.0,273.0 L1152.0,270.0 L1153.1,266.4 L1154.3,262.0 L1155.6,257.8 L1156.8,254.4 L1158.0,252.8 L1159.2,253.8 L1160.4,258.7 L1161.5,267.0 L1162.7,277.1 L1163.8,287.2 L1164.9,295.4 L1166.0,300.0 L1167.0,299.8 L1168.1,296.0 L1169.0,290.4 L1170.0,284.7 L1171.0,280.6 L1172.0,280.0 L1173.0,284.7 L1174.0,293.5 L1175.0,304.1 L1176.0,313.8 L1177.0,319.9 L1178.0,320.0 L1179.1,311.2 L1180.1,295.1 L1181.2,275.5 L1182.3,256.2 L1183.4,241.2 L1184.6,234.2 L1185.8,237.6 L1187.0,248.8 L1188.3,264.2 L1189.5,280.3 L1190.8,293.4 L1192.0,300.0 L1193.2,298.4 L1194.4,291.2 L1195.5,281.0 L1196.7,270.6 L1197.8,262.7 L1199.0,260.0 L1200.2,264.1 L1201.4,273.0 L1202.6,284.4 L1203.7,295.9 L1204.9,305.3 L1206.0,310.0 L1207.0,308.6 L1208.0,302.6 L1208.9,294.4 L1209.9,286.3 L1210.9,280.7 L1212.0,280.0 L1213.2,285.9 L1214.6,297.0 L1216.0,310.6 L1217.4,324.1 L1218.8,334.7 L1220.0,340.0 L1221.1,337.3 L1222.1,328.4 L1223.0,316.6 L1223.9,305.6 L1224.9,298.9 L1226.0,300.0 L1227.2,312.1 L1228.6,333.2 L1230.0,358.5 L1231.4,383.5 L1232.8,403.5 L1234.0,414.0 L1235.1,412.3 L1236.1,401.6 L1237.0,386.0 L1237.9,369.5 L1238.9,356.1 L1240.0,350.0 L1241.2,352.5 L1242.5,360.8 L1243.9,372.2 L1245.3,384.3 L1246.6,394.4 L1248.0,400.0 L1249.4,399.8 L1250.7,395.6 L1252.1,389.4 L1253.5,383.3 L1254.8,379.5 L1256.0,380.0 L1257.1,386.9 L1258.1,398.8 L1259.1,413.0 L1260.1,426.5 L1261.0,436.5 L1262.0,440.0 L1263.0,434.7 L1264.0,422.5 L1265.1,406.8 L1266.1,390.8 L1267.1,378.1 L1268.0,372.0 L1268.9,373.3 L1269.7,379.3 L1270.6,388.6 L1271.4,399.6 L1272.2,410.5 L1273.0,420.0 L1273.8,429.1 L1274.6,439.5 L1275.4,449.9 L1276.2,459.2 L1277.1,466.3 L1278.0,470.0 L1279.1,468.5 L1280.2,462.3 L1281.4,454.0 L1282.6,445.8 L1283.8,440.3 L1285.0,440.0 L1286.2,445.9 L1287.4,456.3 L1288.6,469.4 L1289.7,483.4 L1290.8,496.4 L1291.8,506.7 L1292.6,513.8 L1293.3,518.9 L1293.9,523.1 L1294.6,527.4 L1295.2,532.7 L1296.0,540.0 L1296.8,550.1 L1297.7,562.4 L1298.6,575.7 L1299.6,588.9 L1300.7,600.7 L1302.0,610.0 L1303.5,616.1 L1305.3,619.9 L1307.1,622.4 L1309.0,624.5 L1310.7,627.4 L1312.2,632.0 L1313.4,638.6 L1314.5,646.4 L1315.5,654.9 L1316.4,663.6 L1317.2,672.2 L1318.0,680.0 L1318.7,687.0 L1319.4,693.6 L1320.0,699.9 L1320.6,706.2 L1321.2,712.8 L1322.0,720.0 L1322.9,728.1 L1323.8,737.0 L1324.8,746.2 L1325.8,755.2 L1326.9,763.3 L1328.0,770.0 L1329.3,775.6 L1330.7,780.7 L1332.2,785.0 L1333.7,788.1 L1335.0,789.9 L1336.0,790.0 L1336.7,788.2 L1337.2,784.7 L1337.5,779.8 L1337.8,773.8 L1338.0,767.1 L1338.3,760.0 L1338.7,750.9 L1339.0,739.1 L1339.4,726.6 L1339.8,715.3 L1340.1,707.1 L1340.5,703.9 L1340.9,707.1 L1341.2,715.3 L1341.6,726.6 L1342.0,739.1 L1342.3,750.9 L1342.7,760.0 L1343.0,767.2 L1343.3,774.2 L1343.6,780.4 L1344.0,785.4 L1344.4,788.8 L1345.0,790.0 L1345.8,788.5 L1346.8,784.4 L1347.9,778.7 L1349.0,772.2 L1350.0,765.7 L1350.8,760.0 L1351.4,754.4 L1351.7,747.9 L1352.0,741.5 L1352.3,735.9 L1352.5,731.9 L1352.8,730.4 L1353.1,731.9 L1353.4,735.9 L1353.7,741.5 L1354.0,747.9 L1354.4,754.4 L1354.8,760.0 L1355.2,763.9 L1355.6,766.5 L1356.0,769.2 L1356.5,773.1 L1357.1,779.6 L1358.0,790.0 L1359.1,808.2 L1360.5,834.1 L1362.0,862.6 L1363.6,888.6 L1365.2,906.9 L1366.7,912.4 L1368.2,901.3 L1369.7,876.8 L1371.2,844.6 L1372.6,810.6 L1373.8,780.4 L1374.8,760.0 L1375.5,749.6 L1375.8,744.8 L1376.1,743.9 L1376.2,745.3 L1376.3,747.3 L1376.5,748.3 L1376.7,748.7 L1376.9,749.8 L1377.0,751.5 L1377.3,753.9 L1377.6,756.7 L1378.2,760.0 L1379.0,761.6 L1380.0,761.3 L1381.2,761.5 L1382.4,764.6 L1383.7,773.3 L1385.0,790.0 L1386.3,822.2 L1387.7,869.4 L1389.1,922.1 L1390.5,970.8 L1391.8,1006.0 L1393.1,1018.2 L1394.4,1000.6 L1395.6,959.3 L1396.9,904.6 L1398.0,846.4 L1399.0,794.9 L1399.8,760.0 L1400.4,742.4 L1400.7,734.2 L1401.0,732.6 L1401.1,734.9 L1401.3,738.3 L1401.5,740.0 L1401.8,740.9 L1402.0,743.3 L1402.2,746.9 L1402.5,751.1 L1402.8,755.6 L1403.2,760.0 L1403.7,765.1 L1404.3,771.5 L1405.0,778.1 L1405.7,784.1 L1406.4,788.4 L1407.0,790.0 L1407.6,788.7 L1408.2,785.3 L1408.8,780.1 L1409.3,773.9 L1409.8,767.0 L1410.3,760.0 L1410.7,751.4 L1411.1,740.4 L1411.4,728.9 L1411.7,718.4 L1412.1,710.9 L1412.4,708.0 L1412.7,710.9 L1413.1,718.4 L1413.4,728.9 L1413.8,740.4 L1414.1,751.4 L1414.5,760.0 L1414.9,767.0 L1415.3,773.9 L1415.7,780.1 L1416.2,785.3 L1416.6,788.7 L1417.0,790.0 L1417.4,788.4 L1417.8,784.1 L1418.1,778.1 L1418.5,771.5 L1418.9,765.1 L1419.2,760.0 L1419.5,755.6 L1419.8,751.0 L1420.1,746.8 L1420.4,743.2 L1420.6,740.7 L1420.9,739.8 L1421.2,740.7 L1421.4,743.2 L1421.7,746.8 L1421.9,751.0 L1422.2,755.6 L1422.6,760.0 L1423.0,765.1 L1423.5,771.5 L1424.0,778.1 L1424.5,784.1 L1425.0,788.4 L1425.5,790.0 L1425.9,788.5 L1426.3,784.6 L1426.6,779.0 L1427.0,772.5 L1427.3,765.9 L1427.6,760.0 L1427.9,753.9 L1428.2,746.6 L1428.5,739.3 L1428.8,732.9 L1429.1,728.3 L1429.4,726.6 L1429.7,728.3 L1430.0,732.9 L1430.2,739.3 L1430.5,746.6 L1430.8,753.9 L1431.2,760.0 L1431.6,765.9 L1432.1,772.5 L1432.6,779.0 L1433.1,784.6 L1433.6,788.5 L1434.0,790.0 L1434.4,788.2 L1434.8,783.6 L1435.1,777.4 L1435.4,770.6 L1435.7,764.4 L1436.0,760.0 L1436.2,757.2 L1436.4,755.1 L1436.6,753.6 L1436.7,752.7 L1436.8,752.2 L1437.0,752.0 L1437.2,752.2 L1437.3,752.7 L1437.4,753.6 L1437.6,755.1 L1437.8,757.2 L1438.0,760.0 L1438.3,764.1 L1438.7,769.5 L1439.1,775.5 L1439.4,781.4 L1439.8,786.5 L1440.0,790.0" stroke="#fc7868" stroke-width="3" fill="none" stroke-linejoin="round" shape-rendering="crispEdges"/><path d="M216.0,443.2 L230.7,443.2 L251.6,443.2 L276.1,443.3 L301.6,443.3 L325.4,443.3 L345.0,443.2 L360.3,443.1 L373.3,443.0 L384.6,442.9 L395.0,442.7 L404.9,442.4 L415.0,442.0 L425.2,441.5 L434.8,440.9 L444.1,440.1 L453.0,439.3 L461.6,438.5 L470.0,437.6 L478.2,436.7 L486.2,435.8 L493.9,434.8 L501.3,433.7 L508.3,432.4 L515.0,431.0 L521.1,429.4 L526.5,427.6 L531.6,425.7 L536.6,423.6 L542.0,421.4 L548.0,419.0 L554.9,416.3 L562.5,413.2 L570.4,409.9 L578.2,406.7 L585.5,403.9 L592.0,401.6 L597.6,399.9 L602.6,398.5 L607.1,397.5 L611.2,396.8 L615.1,396.3 L618.8,396.0 L622.2,396.0 L625.3,396.3 L628.1,396.8 L630.7,397.5 L633.3,398.4 L636.0,399.4 L638.7,400.4 L641.4,401.4 L644.0,402.5 L646.6,403.9 L649.3,405.7 L652.0,408.0 L654.9,410.9 L657.9,414.3 L661.0,418.2 L664.0,422.2 L666.9,426.2 L669.5,430.0 L671.9,433.7 L674.1,437.5 L676.1,441.3 L678.1,445.0 L680.0,448.6 L682.0,452.0 L684.0,455.1 L685.9,457.9 L687.7,460.6 L689.6,463.2 L691.7,466.0 L694.0,469.0 L696.5,472.3 L699.3,475.8 L702.2,479.4 L705.1,483.1 L708.1,486.6 L711.0,490.0 L713.9,493.3 L716.9,496.5 L719.9,499.7 L722.8,502.7 L725.7,505.5 L728.4,508.0 L730.9,510.1 L733.3,512.0 L735.6,513.6 L737.9,515.0 L740.2,516.3 L742.5,517.5 L744.9,518.6 L747.2,519.7 L749.6,520.6 L752.0,521.4 L754.3,521.9 L756.7,522.2 L759.1,522.3 L761.5,522.1 L763.9,521.7 L766.3,521.2 L768.6,520.4 L771.0,519.4 L773.4,518.1 L775.9,516.6 L778.3,514.8 L780.7,512.9 L782.9,510.9 L785.0,509.0 L786.8,507.1 L788.5,505.3 L790.0,503.4 L791.5,501.4 L793.0,499.2 L794.5,496.7 L796.1,494.0 L797.7,491.1 L799.3,488.0 L800.8,484.7 L802.4,481.3 L804.0,477.8 L805.6,474.0 L807.2,469.9 L808.9,465.7 L810.5,461.5 L812.0,457.6 L813.4,454.2 L814.6,451.3 L815.7,448.8 L816.6,446.5 L817.6,444.4 L818.7,442.3 L820.0,440.0 L821.5,437.4 L823.3,434.5 L825.1,431.7 L827.0,429.1 L828.8,427.0 L830.5,425.7 L832.0,425.2 L833.5,425.4 L834.9,426.1 L836.3,427.2 L837.7,428.7 L839.0,430.4 L840.2,432.3 L841.4,434.5 L842.5,437.1 L843.7,440.0 L844.9,443.3 L846.3,447.2 L847.9,451.9 L849.6,457.4 L851.4,463.4 L853.3,469.4 L855.1,475.0 L856.8,479.8 L858.4,483.8 L859.8,487.3 L861.2,490.5 L862.6,493.3 L864.2,495.8 L866.0,498.0 L868.1,500.0 L870.4,501.8 L872.8,503.3 L875.3,504.3 L877.7,504.9 L880.0,505.0 L882.2,504.4 L884.3,503.1 L886.4,501.4 L888.4,499.3 L890.3,497.2 L892.0,495.0 L893.5,493.1 L894.8,491.2 L896.1,489.2 L897.2,486.9 L898.4,483.8 L899.8,479.8 L901.3,474.6 L902.8,468.4 L904.4,461.5 L906.0,454.3 L907.7,447.1 L909.4,440.2 L911.2,433.5 L913.0,426.7 L914.9,419.9 L916.8,413.2 L918.6,406.8 L920.4,400.9 L922.1,395.4 L923.6,390.2 L925.2,385.4 L926.7,380.8 L928.2,376.3 L929.8,372.0 L931.5,367.8 L933.2,363.9 L935.0,360.1 L936.7,356.5 L938.2,353.1 L939.5,349.8 L940.5,346.9 L941.3,344.3 L941.9,341.8 L942.4,339.4 L943.0,336.9 L943.7,334.0 L944.5,330.8 L945.4,327.4 L946.2,323.8 L947.1,320.2 L948.0,316.6 L948.9,313.0 L949.8,309.5 L950.7,306.0 L951.5,302.5 L952.4,299.0 L953.3,295.5 L954.2,292.0 L955.1,288.5 L955.9,285.0 L956.8,281.5 L957.7,278.0 L958.5,274.5 L959.4,271.0 L960.3,267.4 L961.2,263.7 L962.0,260.1 L962.9,256.5 L963.8,253.1 L964.7,250.0 L965.6,247.2 L966.5,244.5 L967.3,242.0 L968.2,239.7 L969.1,237.7 L970.0,236.0 L970.9,234.6 L971.8,233.7 L972.6,233.0 L973.5,232.4 L974.5,231.7 L975.5,231.0 L976.6,230.3 L977.8,229.7 L979.1,229.1 L980.4,228.3 L981.6,227.3 L982.8,225.7 L983.9,223.5 L985.0,220.8 L986.0,217.8 L987.1,214.6 L988.1,211.6 L989.1,208.9 L990.1,206.3 L991.2,203.5 L992.2,200.8 L993.2,198.5 L994.1,196.9 L995.0,196.2 L995.8,196.6 L996.4,197.9 L997.0,199.8 L997.6,202.3 L998.2,205.0 L999.0,207.8 L999.9,210.7 L1000.8,213.8 L1001.8,217.3 L1002.8,221.1 L1003.9,225.2 L1005.0,229.8 L1006.2,235.1 L1007.5,241.2 L1008.8,247.6 L1010.2,254.1 L1011.6,260.3 L1012.9,265.7 L1014.3,270.7 L1015.6,275.5 L1017.0,280.0 L1018.4,284.0 L1019.7,287.3 L1020.9,289.6 L1022.0,290.9 L1023.0,291.3 L1024.0,291.0 L1025.0,290.1 L1025.9,288.9 L1026.9,287.6 L1027.9,285.9 L1028.9,283.5 L1029.9,280.8 L1030.9,278.0 L1031.9,275.6 L1032.9,273.7 L1033.8,272.3 L1034.7,271.3 L1035.5,270.4 L1036.4,269.9 L1037.3,269.7 L1038.4,269.7 L1039.6,270.2 L1041.0,271.1 L1042.4,272.3 L1043.9,273.7 L1045.4,274.9 L1046.8,276.0 L1048.2,276.9 L1049.5,277.9 L1050.9,278.8 L1052.2,279.6 L1053.7,280.1 L1055.2,280.3 L1056.9,280.2 L1058.6,279.8 L1060.5,279.2 L1062.3,278.4 L1064.0,277.3 L1065.7,276.0 L1067.2,274.6 L1068.6,273.0 L1069.9,271.2 L1071.3,269.0 L1072.6,266.5 L1074.1,263.4 L1075.7,259.2 L1077.4,253.8 L1079.1,247.9 L1080.9,242.5 L1082.5,238.2 L1083.9,235.8 L1085.1,235.6 L1086.2,237.0 L1087.1,239.5 L1088.0,242.8 L1088.9,246.3 L1089.9,249.7 L1090.9,253.0 L1091.9,256.6 L1092.9,260.4 L1093.9,264.6 L1094.9,269.0 L1095.9,273.7 L1096.9,279.1 L1098.0,285.4 L1099.1,291.9 L1100.1,298.1 L1101.1,303.6 L1101.9,307.6 L1102.5,310.2 L1103.0,311.9 L1103.3,312.7 L1103.6,312.9 L1104.0,312.5 L1104.6,311.8 L1105.3,310.6 L1106.1,308.7 L1107.0,306.3 L1107.9,303.5 L1108.8,300.4 L1109.8,297.0 L1110.8,293.0 L1111.8,288.3 L1112.9,283.2 L1113.9,278.2 L1115.0,273.6 L1116.0,270.0 L1117.0,267.2 L1117.9,264.8 L1118.8,263.0 L1119.7,261.6 L1120.6,260.7 L1121.6,260.4 L1122.6,260.7 L1123.6,261.6 L1124.7,263.1 L1125.8,264.9 L1127.0,267.0 L1128.2,269.2 L1129.5,271.4 L1131.0,273.6 L1132.5,276.1 L1134.0,279.0 L1135.5,282.6 L1137.0,286.9 L1138.5,293.0 L1140.1,301.0 L1141.7,309.5 L1143.2,317.5 L1144.7,323.6 L1146.0,326.6 L1147.2,326.0 L1148.1,322.6 L1149.1,317.4 L1150.0,311.3 L1150.9,305.2 L1152.0,300.0 L1153.2,294.6 L1154.6,288.0 L1156.0,281.4 L1157.4,276.0 L1158.8,272.9 L1160.0,273.3 L1161.1,278.2 L1162.1,286.8 L1163.1,297.8 L1164.0,309.6 L1165.0,320.9 L1166.0,330.0 L1167.0,338.2 L1168.1,346.9 L1169.2,355.0 L1170.2,361.4 L1171.4,365.0 L1172.5,364.8 L1173.7,358.7 L1174.9,347.1 L1176.2,332.7 L1177.4,318.3 L1178.7,306.5 L1180.0,300.0 L1181.3,300.9 L1182.5,307.3 L1183.8,316.3 L1185.1,325.1 L1186.5,330.6 L1188.0,330.0 L1189.7,320.5 L1191.6,304.0 L1193.6,284.3 L1195.6,265.2 L1197.5,250.6 L1199.1,244.3 L1200.5,248.8 L1201.7,261.5 L1202.9,278.7 L1203.9,296.6 L1205.0,311.6 L1206.0,320.0 L1207.0,320.2 L1208.0,314.9 L1208.9,306.6 L1209.9,298.0 L1210.9,291.6 L1212.0,290.0 L1213.2,294.7 L1214.5,304.1 L1215.9,315.6 L1217.3,327.0 L1218.6,335.9 L1220.0,340.0 L1221.3,337.4 L1222.7,329.6 L1224.0,319.4 L1225.3,309.3 L1226.7,301.9 L1228.0,300.0 L1229.3,305.3 L1230.7,315.9 L1232.0,329.4 L1233.3,343.0 L1234.7,354.1 L1236.0,360.0 L1237.3,359.2 L1238.7,353.3 L1240.0,345.0 L1241.3,336.7 L1242.7,330.8 L1244.0,330.0 L1245.3,335.4 L1246.7,345.4 L1248.0,357.8 L1249.3,370.7 L1250.6,382.1 L1252.0,390.0 L1253.4,394.4 L1255.0,397.0 L1256.5,398.1 L1258.0,397.9 L1259.3,396.8 L1260.4,395.0 L1261.2,391.3 L1261.8,385.4 L1262.3,378.4 L1262.6,371.9 L1263.1,367.1 L1263.6,365.5 L1264.2,367.3 L1264.9,371.3 L1265.6,377.2 L1266.3,384.2 L1267.1,392.0 L1268.0,400.0 L1269.0,408.9 L1270.1,419.2 L1271.3,430.3 L1272.6,441.3 L1273.8,451.4 L1275.0,460.0 L1276.2,466.7 L1277.3,472.2 L1278.4,476.9 L1279.6,481.1 L1280.8,485.3 L1282.0,490.0 L1283.3,494.7 L1284.6,498.9 L1285.9,503.1 L1287.3,507.8 L1288.7,513.3 L1290.0,520.0 L1291.3,528.5 L1292.7,538.5 L1294.0,549.4 L1295.3,560.4 L1296.7,570.8 L1298.0,580.0 L1299.3,587.6 L1300.7,594.1 L1302.0,600.0 L1303.3,605.9 L1304.7,612.4 L1306.0,620.0 L1307.4,629.1 L1308.7,639.3 L1310.1,650.0 L1311.5,660.7 L1312.8,670.9 L1314.0,680.0 L1315.1,687.8 L1316.1,694.8 L1317.1,701.2 L1318.1,707.4 L1319.0,713.6 L1320.0,720.0 L1321.1,727.1 L1322.2,734.8 L1323.4,742.5 L1324.4,749.6 L1325.3,755.6 L1326.0,760.0" stroke="#dc5078" stroke-width="3" fill="none" stroke-linejoin="round" shape-rendering="crispEdges"/><path d="M216.0,375.0 L223.0,376.6 L232.6,378.8 L243.9,381.4 L256.2,384.3 L268.5,387.2 L280.0,390.0 L290.9,392.8 L301.9,395.7 L312.9,398.7 L323.8,401.7 L334.6,404.6 L345.0,407.3 L355.0,409.8 L364.7,412.2 L374.2,414.5 L383.6,416.7 L393.2,418.8 L403.0,421.0 L413.5,423.3 L424.5,425.6 L435.7,427.9 L446.4,430.0 L456.4,431.9 L465.0,433.4 L471.9,434.5 L477.3,435.3 L481.9,435.8 L486.2,436.1 L490.9,436.1 L496.5,436.0 L503.0,435.7 L509.9,435.3 L517.1,434.6 L524.6,433.7 L532.2,432.5 L540.0,431.0 L548.3,429.0 L557.2,426.4 L566.3,423.5 L575.1,420.6 L583.2,417.9 L590.0,415.6 L595.4,413.7 L599.7,412.1 L603.2,410.6 L606.3,409.3 L609.5,408.1 L613.0,407.0 L616.8,406.0 L620.7,405.0 L624.5,404.1 L628.3,403.4 L632.2,403.0 L636.0,403.0 L639.8,403.3 L643.7,404.0 L647.5,404.9 L651.3,406.0 L655.2,407.4 L659.0,409.0 L662.9,410.9 L666.9,413.1 L670.8,415.5 L674.7,418.0 L678.5,420.6 L682.0,423.0 L685.4,425.4 L688.6,427.9 L691.6,430.4 L694.6,432.8 L697.4,435.0 L700.0,437.0 L702.4,438.6 L704.6,439.9 L706.7,441.1 L708.6,442.1 L710.6,443.2 L712.6,444.5 L714.6,445.9 L716.5,447.4 L718.4,448.9 L720.4,450.4 L722.6,451.9 L725.0,453.3 L727.8,454.7 L730.8,456.0 L734.1,457.4 L737.4,458.7 L740.8,459.9 L744.0,461.0 L747.2,462.1 L750.3,463.1 L753.5,464.1 L756.7,464.9 L759.8,465.6 L763.0,466.0 L766.2,466.2 L769.3,466.3 L772.5,466.2 L775.7,465.9 L778.8,465.4 L782.0,464.7 L785.2,463.7 L788.6,462.3 L791.9,460.8 L795.1,459.1 L798.2,457.4 L801.0,455.8 L803.5,454.1 L805.9,452.4 L808.0,450.6 L810.0,448.9 L811.8,447.2 L813.5,445.8 L814.9,444.6 L816.0,443.5 L816.9,442.6 L817.8,441.7 L818.8,440.9 L820.0,439.9 L821.5,438.8 L823.2,437.8 L825.0,436.6 L826.9,435.6 L828.7,434.5 L830.5,433.6 L832.2,432.7 L834.0,431.7 L835.8,430.8 L837.5,430.1 L839.2,429.6 L841.0,429.4 L842.8,429.6 L844.5,430.1 L846.2,430.8 L848.0,431.7 L849.8,432.7 L851.5,433.6 L853.2,434.6 L854.9,435.6 L856.6,436.8 L858.3,437.9 L860.1,439.0 L862.0,439.9 L864.0,440.9 L866.1,442.0 L868.3,443.1 L870.5,443.9 L872.6,444.2 L874.6,444.0 L876.5,443.1 L878.2,441.8 L879.9,439.9 L881.6,437.8 L883.3,435.3 L885.0,432.5 L886.8,429.3 L888.7,425.7 L890.6,421.8 L892.4,417.6 L894.1,413.5 L895.6,409.4 L896.8,405.3 L897.8,401.0 L898.7,396.7 L899.6,392.5 L900.5,388.5 L901.5,385.0 L902.7,381.9 L904.0,379.1 L905.3,376.6 L906.6,374.3 L908.0,372.1 L909.3,370.0 L910.5,368.0 L911.6,366.3 L912.7,364.7 L914.0,363.1 L915.4,361.6 L917.2,360.0 L919.5,358.4 L922.1,356.7 L925.0,355.0 L927.9,353.4 L930.6,351.9 L933.0,350.5 L935.0,349.3 L936.7,348.2 L938.3,347.2 L939.7,346.3 L941.1,345.3 L942.4,344.2 L943.6,343.3 L944.7,342.8 L945.7,342.3 L946.6,341.3 L947.6,339.4 L948.7,336.3 L949.9,331.3 L951.2,324.7 L952.5,317.2 L953.9,309.6 L955.2,302.7 L956.5,297.2 L957.8,293.1 L959.1,289.8 L960.4,287.2 L961.6,285.2 L962.8,283.6 L963.9,282.4 L964.9,281.7 L965.8,281.7 L966.6,282.1 L967.4,282.9 L968.2,283.7 L969.1,284.5 L970.1,285.4 L971.2,286.6 L972.3,287.9 L973.4,289.2 L974.5,290.2 L975.5,290.8 L976.4,291.1 L977.3,291.1 L978.2,290.9 L979.0,290.5 L979.8,289.8 L980.7,288.7 L981.6,287.4 L982.4,285.7 L983.3,283.8 L984.2,281.6 L985.1,279.1 L986.0,276.1 L987.0,272.9 L988.0,269.4 L989.0,265.6 L990.1,261.3 L991.2,256.5 L992.3,250.9 L993.5,243.7 L994.8,234.6 L996.2,225.0 L997.5,216.0 L998.8,208.8 L999.9,204.7 L1000.9,204.1 L1001.8,206.1 L1002.6,209.9 L1003.4,214.8 L1004.2,220.0 L1005.1,224.6 L1006.1,229.0 L1007.0,234.0 L1008.1,239.2 L1009.1,244.5 L1010.2,249.5 L1011.4,254.0 L1012.7,258.2 L1014.0,262.2 L1015.5,265.9 L1016.9,269.4 L1018.4,272.4 L1019.8,275.0 L1021.2,276.9 L1022.5,278.3 L1023.8,279.3 L1025.1,280.1 L1026.6,280.7 L1028.2,281.3 L1030.0,282.0 L1031.9,282.5 L1033.9,282.9 L1036.0,283.2 L1038.0,283.4 L1040.0,283.4 L1041.9,283.3 L1043.8,283.1 L1045.7,282.8 L1047.6,282.2 L1049.3,281.4 L1051.0,280.3 L1052.5,278.7 L1053.9,276.7 L1055.2,274.4 L1056.5,272.0 L1057.9,269.7 L1059.4,267.6 L1061.0,265.8 L1062.7,264.2 L1064.5,262.7 L1066.3,261.1 L1068.1,259.3 L1069.9,257.1 L1071.6,254.3 L1073.4,250.9 L1075.1,247.3 L1076.9,243.7 L1078.6,240.6 L1080.4,238.2 L1082.2,236.5 L1084.0,235.2 L1085.8,234.3 L1087.6,233.8 L1089.4,233.7 L1091.0,234.0 L1092.5,234.7 L1094.0,235.8 L1095.4,237.3 L1096.8,239.2 L1098.1,241.6 L1099.3,244.5 L1100.5,248.2 L1101.5,252.7 L1102.6,257.6 L1103.6,262.7 L1104.6,267.5 L1105.6,271.8 L1106.6,275.8 L1107.7,280.0 L1108.8,283.9 L1109.8,287.3 L1110.8,289.7 L1111.9,290.8 L1113.0,290.5 L1114.0,289.0 L1115.1,286.6 L1116.1,283.4 L1117.2,279.8 L1118.2,276.0 L1119.2,271.7 L1120.1,266.6 L1121.1,261.1 L1122.1,255.4 L1123.2,249.8 L1124.5,244.5 L1126.0,239.0 L1127.8,233.0 L1129.7,227.0 L1131.6,221.8 L1133.3,218.0 L1134.9,216.2 L1136.2,216.9 L1137.4,219.7 L1138.4,223.8 L1139.4,228.7 L1140.4,233.8 L1141.5,238.3 L1142.6,242.9 L1143.7,248.3 L1144.7,253.9 L1145.8,258.9 L1146.9,262.7 L1148.1,264.8 L1149.3,263.9 L1150.6,260.4 L1151.8,255.6 L1153.2,251.3 L1154.6,248.9 L1156.0,250.0 L1157.5,256.2 L1159.1,266.7 L1160.8,279.2 L1162.4,291.2 L1164.1,300.4 L1165.8,304.6 L1167.5,302.2 L1169.4,294.7 L1171.2,284.5 L1173.0,273.8 L1174.6,264.8 L1176.0,260.0 L1177.2,260.4 L1178.1,264.3 L1178.9,270.1 L1179.6,275.8 L1180.3,279.7 L1181.0,280.0 L1181.7,276.0 L1182.3,269.0 L1182.9,260.2 L1183.5,250.6 L1184.0,241.5 L1184.6,234.0 L1185.2,227.1 L1185.7,219.8 L1186.3,212.9 L1186.8,207.2 L1187.4,203.8 L1188.0,203.3 L1188.6,206.3 L1189.3,212.3 L1189.9,220.4 L1190.6,229.8 L1191.3,240.0 L1192.0,250.0 L1192.8,261.5 L1193.6,275.3 L1194.5,289.8 L1195.4,303.2 L1196.2,313.9 L1197.0,320.0 L1197.7,320.9 L1198.4,317.8 L1199.0,311.9 L1199.6,304.4 L1200.3,296.7 L1201.0,290.0 L1201.8,282.5 L1202.6,273.0 L1203.4,263.1 L1204.2,254.8 L1205.1,249.8 L1206.0,250.0 L1206.9,258.1 L1207.9,273.3 L1208.9,291.8 L1210.0,309.9 L1211.0,323.8 L1212.0,330.0 L1213.0,326.0 L1214.0,314.4 L1215.0,298.6 L1216.0,282.3 L1217.0,268.9 L1218.0,262.0 L1219.0,263.2 L1220.1,269.9 L1221.1,279.6 L1222.1,289.6 L1223.1,297.3 L1224.0,300.0 L1224.8,295.8 L1225.4,286.5 L1226.1,274.9 L1226.7,263.7 L1227.3,256.0 L1228.1,254.4 L1229.0,261.2 L1229.9,274.5 L1230.9,291.2 L1232.0,308.1 L1233.0,322.1 L1234.0,330.0 L1235.0,329.8 L1236.0,323.7 L1237.0,314.7 L1238.0,305.8 L1239.0,299.9 L1240.0,300.0 L1241.0,307.4 L1242.0,319.8 L1243.0,335.2 L1244.0,351.7 L1245.0,367.3 L1246.0,380.0 L1247.0,390.0 L1248.0,399.0 L1249.0,407.1 L1250.0,414.3 L1251.0,420.8 L1252.0,426.5 L1253.0,430.8 L1253.9,433.6 L1254.9,435.6 L1255.9,437.6 L1256.9,440.4 L1258.0,445.0 L1259.2,452.5 L1260.4,462.7 L1261.7,473.7 L1263.0,483.8 L1264.3,491.3 L1265.5,494.5 L1266.6,492.5 L1267.7,486.4 L1268.7,477.8 L1269.7,467.9 L1270.8,458.2 L1272.0,450.0 L1273.3,442.3 L1274.8,433.6 L1276.4,425.2 L1277.9,417.9 L1279.3,412.7 L1280.5,410.8 L1281.5,412.4 L1282.3,416.9 L1283.0,423.6 L1283.6,431.7 L1284.3,440.8 L1285.0,450.0 L1285.8,459.5 L1286.6,469.7 L1287.4,480.9 L1288.2,492.9 L1289.1,505.9 L1290.0,520.0 L1290.9,537.0 L1291.8,557.4 L1292.7,578.7 L1293.7,598.6 L1294.8,615.0 L1296.0,625.4 L1297.4,627.8 L1299.0,623.8 L1300.6,616.0 L1302.4,607.6 L1304.2,601.3 L1306.0,600.0 L1308.0,604.2 L1310.1,611.7 L1312.3,621.4 L1314.4,632.0 L1316.3,642.6 L1317.8,651.9 L1318.9,660.9 L1319.6,670.8 L1320.1,680.5 L1320.6,689.3 L1321.0,696.1 L1321.5,700.0 L1322.1,699.2 L1322.8,694.1 L1323.4,687.1 L1324.0,680.5 L1324.7,676.7 L1325.4,678.3 L1326.1,686.5 L1326.8,699.8 L1327.6,715.9 L1328.3,732.8 L1329.1,748.2 L1330.0,760.0 L1330.9,768.7 L1331.9,776.1 L1332.9,782.0 L1333.9,786.4 L1335.0,789.1 L1336.0,790.0 L1337.1,788.3 L1338.3,784.0 L1339.5,778.0 L1340.7,771.3 L1341.7,765.0 L1342.5,760.0 L1343.1,756.0 L1343.4,752.0 L1343.7,748.3 L1343.9,745.4 L1344.1,743.3 L1344.3,742.6 L1344.6,743.3 L1344.7,745.4 L1344.9,748.3 L1345.2,752.0 L1345.6,756.0 L1346.1,760.0 L1346.8,765.0 L1347.6,771.3 L1348.6,778.0 L1349.6,784.0 L1350.8,788.3 L1352.0,790.0 L1353.5,788.4 L1355.2,784.2 L1357.0,778.3 L1358.7,771.6 L1360.2,765.2 L1361.4,760.0 L1362.1,755.3 L1362.6,750.4 L1362.8,745.7 L1362.9,741.7 L1363.0,738.9 L1363.2,737.9 L1363.4,737.2 L1363.6,736.3 L1363.8,736.6 L1364.0,739.6 L1364.4,746.9 L1365.0,760.0 L1365.9,784.1 L1366.9,819.1 L1368.2,858.3 L1369.5,895.2 L1370.8,923.2 L1372.1,935.7 L1373.4,925.6 L1374.7,897.1 L1376.0,859.5 L1377.3,822.7 L1378.7,796.4 L1380.0,790.0 L1381.3,809.0 L1382.6,846.6 L1383.9,894.7 L1385.2,944.8 L1386.5,988.8 L1387.8,1018.4 L1389.0,1035.4 L1390.2,1047.0 L1391.4,1052.4 L1392.5,1050.9 L1393.7,1042.0 L1394.9,1024.8 L1396.2,993.4 L1397.5,947.2 L1398.9,893.5 L1400.2,839.6 L1401.3,792.6 L1402.2,760.0 L1402.8,743.1 L1403.2,736.5 L1403.4,736.9 L1403.5,741.1 L1403.7,746.0 L1403.9,748.3 L1404.2,748.7 L1404.4,749.8 L1404.6,751.5 L1404.9,753.9 L1405.2,756.7 L1405.6,760.0 L1406.1,764.6 L1406.6,770.9 L1407.2,777.6 L1407.8,783.8 L1408.4,788.3 L1409.0,790.0 L1409.6,788.8 L1410.1,785.3 L1410.7,780.3 L1411.2,774.0 L1411.7,767.1 L1412.2,760.0 L1412.6,751.1 L1413.0,739.7 L1413.3,727.6 L1413.6,716.7 L1414.0,708.8 L1414.3,705.8 L1414.6,708.8 L1414.9,716.7 L1415.3,727.6 L1415.6,739.7 L1416.0,751.1 L1416.4,760.0 L1416.9,767.1 L1417.4,774.0 L1418.0,780.3 L1418.7,785.3 L1419.3,788.8 L1420.0,790.0 L1420.8,788.3 L1421.6,784.0 L1422.5,778.1 L1423.4,771.4 L1424.2,765.1 L1424.8,760.0 L1425.3,755.7 L1425.6,751.4 L1425.9,747.3 L1426.1,744.0 L1426.3,741.7 L1426.6,740.8 L1426.9,741.7 L1427.1,744.0 L1427.4,747.3 L1427.7,751.4 L1428.0,755.7 L1428.4,760.0 L1428.9,764.7 L1429.6,770.3 L1430.3,776.2 L1431.0,781.8 L1431.6,786.6 L1432.0,790.0" stroke="#dc00b4" stroke-width="3" fill="none" stroke-linejoin="round" shape-rendering="crispEdges"/><path d="M216.0,416.0 L223.0,415.7 L232.6,415.3 L243.9,414.7 L256.2,414.2 L268.5,413.6 L280.0,413.0 L290.9,412.5 L301.9,412.0 L312.9,411.4 L323.8,410.8 L334.6,410.1 L345.0,409.2 L355.0,408.1 L364.7,406.9 L374.2,405.6 L383.6,404.2 L393.2,402.7 L403.0,401.0 L413.2,399.1 L423.6,396.9 L434.1,394.6 L444.6,392.4 L454.9,390.3 L465.0,388.6 L475.1,387.2 L485.2,385.9 L495.3,384.9 L504.9,384.0 L513.8,383.4 L521.7,383.0 L528.3,382.8 L533.8,382.8 L538.6,383.0 L543.1,383.4 L547.7,384.3 L553.0,385.5 L559.0,387.3 L565.4,389.7 L572.0,392.4 L578.5,395.3 L584.6,398.1 L590.0,400.6 L594.6,402.7 L598.5,404.7 L602.0,406.5 L605.4,408.4 L609.0,410.4 L613.0,412.7 L617.5,415.3 L622.2,418.2 L627.1,421.2 L632.1,424.3 L637.1,427.2 L642.0,430.0 L646.9,432.6 L651.9,435.1 L656.9,437.5 L661.8,439.8 L666.5,441.9 L671.0,444.0 L675.1,445.9 L678.9,447.5 L682.5,449.0 L686.1,450.6 L689.9,452.2 L694.0,454.0 L698.7,456.1 L703.9,458.5 L709.4,461.0 L714.6,463.5 L719.5,465.6 L723.6,467.4 L726.9,468.7 L729.5,469.5 L731.7,470.2 L733.6,470.7 L735.6,471.3 L737.8,472.0 L740.2,472.9 L742.5,473.8 L744.9,474.8 L747.3,475.8 L749.6,476.8 L752.0,477.8 L754.4,478.8 L756.8,479.8 L759.3,480.9 L761.7,481.9 L763.9,482.8 L766.0,483.5 L767.8,484.1 L769.4,484.5 L770.8,484.9 L772.2,485.1 L773.8,485.3 L775.6,485.4 L777.7,485.5 L780.0,485.6 L782.4,485.5 L784.9,485.4 L787.4,485.0 L789.8,484.4 L792.2,483.4 L794.7,482.2 L797.2,480.7 L799.6,479.2 L801.9,477.5 L804.0,476.0 L805.8,474.5 L807.5,473.1 L809.0,471.6 L810.4,470.1 L811.9,468.4 L813.4,466.5 L815.0,464.4 L816.6,462.1 L818.3,459.6 L819.9,457.2 L821.4,454.7 L822.9,452.3 L824.2,450.0 L825.5,447.9 L826.6,445.7 L827.8,443.5 L829.1,441.2 L830.5,438.8 L832.1,436.1 L833.8,433.0 L835.6,429.9 L837.4,426.9 L839.2,424.2 L841.0,422.0 L842.7,420.3 L844.3,418.9 L845.9,417.9 L847.6,417.2 L849.5,416.8 L851.5,416.8 L853.8,417.3 L856.5,418.4 L859.2,419.9 L862.0,421.4 L864.6,422.9 L867.0,424.0 L869.1,424.9 L871.0,425.8 L872.9,426.6 L874.6,427.1 L876.2,427.4 L877.8,427.3 L879.3,426.8 L880.8,425.9 L882.1,424.7 L883.4,423.3 L884.7,421.7 L886.0,420.0 L887.3,418.2 L888.5,416.4 L889.7,414.3 L891.0,412.0 L892.2,409.4 L893.5,406.3 L894.9,402.9 L896.4,399.3 L897.8,395.4 L899.3,391.0 L900.7,385.9 L902.0,380.0 L903.1,372.7 L904.1,364.1 L905.0,354.8 L906.0,345.5 L906.9,337.0 L908.0,330.0 L909.2,324.7 L910.5,320.5 L911.8,317.1 L913.2,314.1 L914.5,311.1 L915.8,307.6 L917.1,303.4 L918.3,298.7 L919.5,294.0 L920.8,289.7 L921.9,286.4 L923.1,284.5 L924.2,284.1 L925.2,284.9 L926.2,286.6 L927.2,289.0 L928.3,291.9 L929.4,295.0 L930.7,298.7 L932.1,303.3 L933.5,308.3 L934.9,313.4 L936.3,318.3 L937.6,322.4 L938.7,326.0 L939.8,329.3 L940.7,332.2 L941.7,334.9 L942.8,337.3 L943.9,339.2 L945.2,340.8 L946.5,342.0 L948.0,342.9 L949.4,343.4 L950.9,343.6 L952.3,343.4 L953.7,342.8 L955.2,341.8 L956.6,340.5 L958.1,338.9 L959.4,337.0 L960.7,335.0 L961.8,332.7 L962.9,330.2 L963.8,327.4 L964.8,324.4 L965.8,321.3 L967.0,318.2 L968.3,314.9 L969.7,311.5 L971.2,308.0 L972.7,304.4 L974.1,300.8 L975.5,297.2 L976.8,293.7 L978.1,290.3 L979.4,286.9 L980.6,283.4 L981.7,279.9 L982.8,276.1 L983.8,271.9 L984.6,267.1 L985.4,262.3 L986.2,257.7 L987.1,253.8 L988.0,250.9 L989.1,249.1 L990.3,248.1 L991.6,247.7 L992.8,247.8 L994.0,248.2 L995.0,248.8 L995.8,249.7 L996.3,251.1 L996.8,252.8 L997.3,254.7 L997.9,256.6 L998.8,258.2 L999.9,260.1 L1001.3,262.4 L1002.7,264.7 L1004.2,266.5 L1005.7,267.3 L1007.2,266.6 L1008.6,264.1 L1010.0,259.9 L1011.5,254.8 L1012.9,249.3 L1014.3,244.0 L1015.6,239.3 L1016.9,235.0 L1018.2,230.5 L1019.5,226.1 L1020.7,222.3 L1021.9,219.2 L1023.0,217.3 L1024.0,216.7 L1024.9,217.1 L1025.7,218.4 L1026.5,220.2 L1027.3,222.4 L1028.2,224.6 L1029.2,227.2 L1030.2,230.5 L1031.3,234.0 L1032.4,237.6 L1033.5,240.9 L1034.5,243.5 L1035.5,245.6 L1036.4,247.6 L1037.3,249.2 L1038.3,250.3 L1039.3,250.9 L1040.5,250.8 L1041.9,249.5 L1043.5,246.9 L1045.2,243.7 L1046.9,240.6 L1048.5,238.3 L1050.0,237.2 L1051.3,237.9 L1052.6,240.1 L1053.7,242.9 L1054.9,245.7 L1056.0,247.9 L1057.3,248.7 L1058.6,248.2 L1060.0,246.8 L1061.4,244.8 L1062.8,242.2 L1064.2,239.3 L1065.7,236.1 L1067.2,231.9 L1068.9,226.4 L1070.5,220.6 L1072.2,215.3 L1073.7,211.4 L1075.2,209.9 L1076.5,211.0 L1077.8,213.9 L1078.9,218.2 L1080.1,223.6 L1081.2,229.7 L1082.5,236.1 L1083.9,243.8 L1085.3,253.5 L1086.8,263.8 L1088.3,273.5 L1089.7,281.6 L1091.0,286.6 L1092.2,288.2 L1093.2,287.3 L1094.2,284.6 L1095.2,281.0 L1096.2,277.2 L1097.2,274.0 L1098.2,271.1 L1099.3,267.8 L1100.3,264.3 L1101.4,260.9 L1102.4,257.7 L1103.5,255.0 L1104.6,253.0 L1105.6,251.5 L1106.6,250.3 L1107.7,249.0 L1108.8,247.3 L1110.0,245.0 L1111.3,241.3 L1112.6,236.3 L1114.0,231.0 L1115.4,226.1 L1116.8,222.6 L1118.2,221.4 L1119.5,223.4 L1120.8,228.3 L1122.1,234.5 L1123.3,240.6 L1124.6,245.4 L1126.0,247.2 L1127.4,245.4 L1129.0,240.8 L1130.5,234.7 L1132.1,228.5 L1133.5,223.4 L1134.9,220.7 L1136.1,220.4 L1137.3,221.7 L1138.3,224.0 L1139.4,227.0 L1140.4,230.5 L1141.5,233.9 L1142.6,237.4 L1143.7,241.3 L1144.7,245.5 L1145.8,250.1 L1146.9,255.1 L1148.1,260.4 L1149.4,266.6 L1150.7,273.7 L1152.1,281.2 L1153.5,288.5 L1154.8,295.0 L1156.0,300.0 L1157.1,303.8 L1158.2,306.9 L1159.2,309.2 L1160.2,310.6 L1161.1,310.9 L1162.0,310.0 L1162.8,307.7 L1163.4,304.0 L1164.0,299.3 L1164.6,293.8 L1165.3,287.9 L1166.0,282.0 L1166.8,274.9 L1167.7,266.2 L1168.7,257.1 L1169.6,248.9 L1170.5,242.6 L1171.4,239.6 L1172.2,240.5 L1172.9,244.4 L1173.7,250.3 L1174.4,257.2 L1175.2,264.1 L1176.0,270.0 L1176.9,275.4 L1177.9,281.1 L1178.9,286.9 L1179.9,292.2 L1181.0,296.7 L1182.0,300.0 L1183.0,301.2 L1184.1,300.6 L1185.2,299.1 L1186.2,297.9 L1187.2,297.8 L1188.0,300.0 L1188.7,304.8 L1189.3,311.5 L1189.9,319.4 L1190.3,327.9 L1190.8,336.3 L1191.3,344.0 L1191.8,352.5 L1192.2,362.6 L1192.6,372.6 L1193.0,380.8 L1193.5,385.5 L1194.0,385.0 L1194.6,378.4 L1195.2,366.8 L1195.8,351.7 L1196.5,334.6 L1197.2,316.8 L1198.0,300.0 L1198.9,281.1 L1199.8,258.3 L1200.8,235.0 L1201.8,214.3 L1202.9,199.5 L1203.9,193.9 L1204.9,201.5 L1205.9,220.7 L1206.9,245.7 L1207.9,271.0 L1209.0,291.0 L1210.0,300.0 L1211.1,294.5 L1212.2,278.3 L1213.3,256.7 L1214.4,235.1 L1215.5,218.9 L1216.5,213.4 L1217.5,222.3 L1218.3,242.1 L1219.2,267.2 L1220.1,292.2 L1221.0,311.7 L1222.0,320.0 L1223.1,313.9 L1224.3,297.0 L1225.6,274.5 L1226.8,251.5 L1228.1,233.3 L1229.3,225.0 L1230.5,228.8 L1231.7,240.9 L1232.9,257.8 L1234.0,275.7 L1235.0,291.0 L1236.0,300.0 L1236.8,301.1 L1237.5,297.0 L1238.0,290.3 L1238.6,283.5 L1239.2,279.2 L1240.0,280.0 L1240.9,287.5 L1241.9,300.0 L1242.9,315.0 L1243.9,330.0 L1245.0,342.5 L1246.0,350.0 L1247.0,350.6 L1248.0,345.9 L1249.0,338.8 L1250.0,331.9 L1251.0,328.0 L1252.0,330.0 L1253.0,339.4 L1254.0,354.4 L1255.1,372.5 L1256.1,391.1 L1257.1,407.8 L1258.0,420.0 L1258.9,427.0 L1259.7,430.6 L1260.6,432.2 L1261.4,433.3 L1262.2,435.5 L1263.0,440.0 L1263.8,448.1 L1264.7,458.7 L1265.5,470.3 L1266.3,481.3 L1267.2,490.1 L1268.0,495.0 L1268.8,494.6 L1269.7,489.8 L1270.5,482.8 L1271.3,475.7 L1272.2,470.8 L1273.0,470.0 L1273.8,474.8 L1274.7,483.7 L1275.5,494.7 L1276.3,505.7 L1277.2,514.8 L1278.0,520.0 L1278.8,519.8 L1279.6,515.6 L1280.4,509.4 L1281.3,503.3 L1282.1,499.5 L1283.0,500.0 L1284.0,505.8 L1285.0,515.6 L1286.0,527.5 L1287.0,540.0 L1288.0,551.4 L1289.0,560.0 L1289.9,566.1 L1290.7,571.1 L1291.5,575.0 L1292.3,577.8 L1293.1,579.4 L1294.0,580.0 L1294.9,577.8 L1295.9,572.6 L1296.9,566.2 L1298.0,560.7 L1299.0,558.0 L1300.0,560.0 L1301.0,568.7 L1302.0,583.0 L1303.0,600.0 L1304.0,617.0 L1305.0,631.3 L1306.0,640.0 L1307.0,641.3 L1308.0,637.0 L1309.0,630.0 L1310.0,623.0 L1311.0,618.7 L1312.0,620.0 L1313.0,628.6 L1314.1,642.6 L1315.1,659.4 L1316.1,676.3 L1317.1,690.7 L1318.0,700.0 L1318.8,702.6 L1319.4,700.4 L1320.0,695.6 L1320.6,690.7 L1321.2,688.1 L1322.0,690.0 L1323.0,697.8 L1324.1,710.0 L1325.2,724.4 L1326.4,738.9 L1327.3,751.5 L1328.0,760.0" stroke="#b400dc" stroke-width="3" fill="none" stroke-linejoin="round" shape-rendering="crispEdges"/><path d="M216.0,412.0 L223.0,410.8 L232.6,409.1 L243.9,407.2 L256.2,405.1 L268.5,402.9 L280.0,401.0 L291.1,399.2 L302.7,397.3 L314.3,395.4 L325.5,393.6 L335.9,391.9 L345.0,390.3 L352.6,388.9 L359.0,387.6 L364.5,386.4 L369.6,385.2 L374.6,384.1 L380.0,383.0 L385.7,381.8 L391.3,380.6 L396.9,379.4 L402.4,378.3 L407.8,377.5 L413.0,377.0 L417.9,376.9 L422.7,376.9 L427.2,377.3 L431.8,377.9 L436.3,378.8 L441.0,380.0 L445.7,381.5 L450.4,383.4 L455.2,385.5 L460.0,387.9 L464.9,390.5 L470.0,393.4 L475.4,396.7 L481.0,400.3 L486.8,404.3 L492.4,408.3 L497.9,412.2 L503.0,415.8 L507.7,419.2 L512.2,422.5 L516.4,425.7 L520.5,428.8 L524.3,431.8 L528.0,434.7 L531.1,437.3 L533.6,439.5 L535.8,441.6 L538.3,443.9 L541.6,446.5 L546.0,449.8 L551.9,454.0 L559.1,459.0 L567.0,464.4 L575.1,469.8 L582.9,474.6 L590.0,478.5 L596.5,481.4 L602.9,483.7 L609.0,485.5 L614.7,486.9 L619.9,488.0 L624.6,489.0 L628.5,489.8 L631.7,490.2 L634.4,490.4 L636.9,490.3 L639.3,490.2 L642.0,490.0 L644.8,489.8 L647.5,489.5 L650.1,489.1 L652.9,488.6 L655.8,487.8 L659.0,486.6 L662.5,485.0 L666.4,482.9 L670.4,480.6 L674.5,478.2 L678.4,476.0 L682.0,474.0 L685.3,472.3 L688.5,470.8 L691.6,469.3 L694.5,468.0 L697.3,466.7 L700.0,465.5 L702.6,464.3 L704.9,463.2 L707.2,462.2 L709.5,461.2 L711.7,460.4 L714.0,459.8 L716.3,459.3 L718.6,458.9 L720.9,458.7 L723.3,458.6 L725.7,458.7 L728.4,459.0 L731.3,459.6 L734.4,460.4 L737.6,461.3 L740.8,462.4 L744.1,463.5 L747.3,464.6 L750.5,465.7 L753.7,466.9 L756.9,468.2 L760.1,469.4 L763.1,470.4 L766.0,471.2 L768.6,471.8 L771.1,472.2 L773.4,472.4 L775.7,472.5 L778.0,472.4 L780.3,472.0 L782.7,471.4 L785.0,470.6 L787.4,469.6 L789.8,468.4 L792.1,467.1 L794.5,465.5 L796.9,463.7 L799.4,461.6 L801.9,459.3 L804.3,456.9 L806.6,454.5 L808.7,452.3 L810.6,450.1 L812.4,448.0 L814.1,445.8 L815.6,443.7 L816.9,441.8 L818.0,440.0 L818.7,438.6 L818.9,437.4 L818.9,436.4 L819.0,435.4 L819.3,434.1 L820.0,432.5 L821.3,430.4 L822.9,427.8 L824.7,425.0 L826.7,422.3 L828.7,419.8 L830.5,417.8 L832.2,416.3 L834.0,415.1 L835.8,414.1 L837.5,413.4 L839.2,412.9 L841.0,412.6 L842.7,412.6 L844.3,413.0 L845.9,413.6 L847.6,414.4 L849.5,415.1 L851.5,415.7 L853.8,416.3 L856.5,417.1 L859.2,417.8 L862.0,418.5 L864.6,418.9 L867.0,418.9 L869.1,418.6 L871.0,418.0 L872.7,417.1 L874.4,416.1 L876.1,414.9 L877.8,413.6 L879.6,412.2 L881.3,410.6 L883.1,408.9 L884.8,407.0 L886.6,405.1 L888.3,403.0 L890.1,400.8 L892.0,398.4 L893.8,395.9 L895.6,393.3 L897.3,390.8 L898.8,388.4 L900.0,386.1 L901.0,383.8 L901.8,381.5 L902.6,379.3 L903.7,377.1 L905.0,375.0 L906.7,373.1 L908.6,371.4 L910.7,369.8 L912.9,368.0 L915.1,365.8 L917.2,363.0 L919.4,359.2 L921.7,354.6 L924.0,349.6 L926.2,344.6 L928.2,340.3 L930.0,337.0 L931.4,334.9 L932.6,333.5 L933.6,332.7 L934.4,332.3 L935.3,332.1 L936.3,332.0 L937.3,332.0 L938.4,332.2 L939.4,332.6 L940.5,333.3 L941.5,334.1 L942.6,335.1 L943.7,336.3 L944.7,337.8 L945.8,339.5 L946.8,341.2 L947.9,342.9 L948.9,344.6 L949.9,346.2 L950.9,347.9 L951.9,349.5 L952.9,351.1 L953.9,352.6 L955.0,354.0 L956.2,355.4 L957.5,356.8 L958.8,358.1 L960.1,359.2 L961.4,359.8 L962.7,360.0 L964.0,359.7 L965.2,359.1 L966.5,358.2 L967.7,356.7 L968.9,354.7 L970.0,352.0 L971.0,348.4 L971.9,344.0 L972.7,338.9 L973.5,333.7 L974.4,328.4 L975.2,323.6 L976.1,319.1 L976.9,314.7 L977.8,310.3 L978.7,306.0 L979.5,301.7 L980.4,297.3 L981.3,292.9 L982.2,288.3 L983.2,283.8 L984.1,279.4 L984.9,275.1 L985.7,271.0 L986.3,267.3 L986.8,263.9 L987.3,260.7 L987.7,257.4 L988.2,253.9 L988.8,250.0 L989.5,245.1 L990.3,239.2 L991.1,233.1 L992.0,227.5 L992.8,223.0 L993.6,220.4 L994.3,220.0 L995.0,221.2 L995.7,223.5 L996.3,226.6 L997.0,229.9 L997.8,233.0 L998.6,236.1 L999.4,239.6 L1000.3,243.4 L1001.1,247.2 L1002.1,250.8 L1003.0,254.0 L1004.0,257.1 L1005.0,260.3 L1006.1,263.3 L1007.2,265.9 L1008.2,267.8 L1009.3,268.7 L1010.3,268.5 L1011.2,267.5 L1012.2,265.7 L1013.2,263.5 L1014.3,260.9 L1015.6,258.2 L1017.2,254.9 L1018.9,250.7 L1020.8,246.2 L1022.8,241.9 L1024.5,238.4 L1026.1,236.2 L1027.4,235.4 L1028.5,235.6 L1029.4,236.5 L1030.4,238.0 L1031.3,239.7 L1032.4,241.4 L1033.6,243.3 L1034.9,245.7 L1036.2,248.4 L1037.5,251.1 L1038.8,253.7 L1040.0,256.1 L1041.1,258.2 L1042.2,260.0 L1043.2,261.8 L1044.3,263.6 L1045.5,265.5 L1046.8,267.6 L1048.3,270.2 L1050.0,273.2 L1051.8,276.4 L1053.7,279.2 L1055.5,281.4 L1057.3,282.4 L1059.0,282.2 L1060.8,281.1 L1062.5,279.3 L1064.3,277.0 L1066.0,274.5 L1067.8,271.8 L1069.5,268.9 L1071.3,265.6 L1073.0,262.0 L1074.7,258.3 L1076.5,254.5 L1078.3,250.8 L1080.2,246.8 L1082.2,242.1 L1084.3,237.5 L1086.3,233.4 L1088.2,230.3 L1089.9,228.8 L1091.4,229.2 L1092.7,231.3 L1093.9,234.4 L1095.0,237.9 L1096.1,241.5 L1097.2,244.5 L1098.3,247.7 L1099.4,251.7 L1100.5,255.7 L1101.5,258.8 L1102.5,260.3 L1103.5,259.2 L1104.4,255.0 L1105.3,248.1 L1106.2,239.5 L1107.1,230.2 L1107.9,221.0 L1108.8,213.0 L1109.7,205.3 L1110.6,197.1 L1111.5,189.0 L1112.3,181.8 L1113.2,176.3 L1114.0,173.1 L1114.7,172.6 L1115.4,174.2 L1116.1,177.4 L1116.8,181.8 L1117.4,186.8 L1118.2,192.0 L1119.0,198.1 L1120.0,205.7 L1120.9,213.9 L1121.8,222.0 L1122.7,228.9 L1123.5,234.0 L1124.2,237.4 L1124.7,239.8 L1125.3,241.1 L1125.8,241.3 L1126.3,240.3 L1127.0,238.0 L1127.8,233.0 L1128.6,225.1 L1129.5,215.9 L1130.4,207.2 L1131.3,200.6 L1132.2,197.8 L1133.0,199.2 L1133.8,203.5 L1134.6,209.9 L1135.3,217.5 L1136.1,225.7 L1136.8,233.5 L1137.5,241.6 L1138.3,250.8 L1139.0,260.4 L1139.7,269.9 L1140.4,278.6 L1141.0,286.0 L1141.6,292.5 L1142.1,298.6 L1142.6,304.0 L1143.1,308.2 L1143.6,310.8 L1144.2,311.3 L1144.8,309.5 L1145.5,305.6 L1146.2,300.1 L1146.9,293.3 L1147.7,285.7 L1148.4,277.6 L1149.2,267.3 L1150.0,254.3 L1150.8,240.3 L1151.7,227.4 L1152.5,217.5 L1153.2,212.5 L1153.9,213.2 L1154.5,218.2 L1155.1,226.2 L1155.7,235.8 L1156.2,245.7 L1156.8,254.5 L1157.3,262.9 L1157.9,271.9 L1158.4,281.3 L1158.9,290.5 L1159.4,299.2 L1159.9,307.0 L1160.4,314.5 L1160.9,322.1 L1161.4,329.2 L1161.9,335.2 L1162.4,339.2 L1163.0,340.7 L1163.6,339.3 L1164.3,335.4 L1164.9,329.6 L1165.7,322.6 L1166.5,314.8 L1167.3,307.0 L1168.2,297.5 L1169.3,285.6 L1170.4,273.0 L1171.5,261.4 L1172.6,252.6 L1173.6,248.2 L1174.5,249.2 L1175.5,254.5 L1176.3,262.6 L1177.2,271.8 L1178.0,280.9 L1178.8,288.2 L1179.6,294.4 L1180.3,300.7 L1181.0,306.7 L1181.6,312.2 L1182.3,316.6 L1183.0,319.7 L1183.7,320.9 L1184.3,320.3 L1185.0,318.8 L1185.6,317.0 L1186.4,315.6 L1187.2,315.5 L1188.1,317.2 L1189.1,320.3 L1190.2,323.8 L1191.3,326.9 L1192.4,328.6 L1193.5,328.0 L1194.5,324.9 L1195.5,320.2 L1196.5,314.0 L1197.5,306.8 L1198.6,298.8 L1199.8,290.3 L1201.1,280.1 L1202.6,267.5 L1204.1,254.2 L1205.6,241.6 L1207.0,231.4 L1208.2,225.1 L1209.1,222.9 L1209.9,223.5 L1210.6,226.5 L1211.2,231.3 L1211.7,237.3 L1212.4,244.0 L1213.1,252.4 L1213.9,263.2 L1214.6,275.2 L1215.3,287.3 L1216.0,298.3 L1216.6,307.0 L1217.1,313.8 L1217.4,319.6 L1217.6,324.3 L1217.9,327.7 L1218.4,329.7 L1219.0,330.0 L1219.9,328.0 L1220.9,323.7 L1222.1,318.0 L1223.4,311.6 L1224.7,305.3 L1226.0,300.0 L1227.3,294.4 L1228.8,287.7 L1230.3,281.0 L1231.7,275.9 L1233.1,273.5 L1234.2,275.2 L1235.1,281.8 L1235.8,292.5 L1236.3,306.0 L1236.8,320.9 L1237.4,336.0 L1238.0,350.0 L1238.7,364.7 L1239.5,381.5 L1240.3,398.4 L1241.1,413.6 L1241.8,425.0 L1242.6,430.7 L1243.3,429.7 L1244.1,423.3 L1244.8,413.2 L1245.5,401.0 L1246.2,388.0 L1246.8,376.0 L1247.4,362.9 L1247.9,347.2 L1248.4,330.8 L1248.9,315.9 L1249.4,304.3 L1249.9,298.3 L1250.4,298.8 L1250.9,304.3 L1251.3,313.3 L1251.8,324.0 L1252.4,335.0 L1253.0,344.5 L1253.8,352.8 L1254.6,361.1 L1255.5,369.6 L1256.5,378.4 L1257.4,387.5 L1258.3,397.0 L1259.1,407.9 L1260.0,420.3 L1260.8,433.0 L1261.6,444.8 L1262.5,454.5 L1263.4,460.9 L1264.4,462.5 L1265.4,460.0 L1266.4,455.3 L1267.5,450.7 L1268.6,448.0 L1269.7,449.3 L1270.8,456.5 L1272.0,468.2 L1273.1,481.9 L1274.4,495.1 L1275.6,505.0 L1277.0,509.2 L1278.5,504.8 L1280.1,493.3 L1281.8,478.6 L1283.4,464.6 L1285.0,455.3 L1286.5,454.6 L1287.9,464.8 L1289.3,483.3 L1290.6,506.5 L1291.8,530.7 L1292.9,552.4 L1293.8,568.0 L1294.4,578.0 L1294.8,585.3 L1295.1,590.1 L1295.3,592.4 L1295.6,592.4 L1296.0,590.0 L1296.6,583.2 L1297.2,571.4 L1297.9,557.2 L1298.7,543.3 L1299.4,532.0 L1300.1,526.0 L1300.8,525.8 L1301.4,529.5 L1302.1,536.0 L1302.7,544.0 L1303.4,552.4 L1304.0,560.0 L1304.6,567.4 L1305.2,575.6 L1305.8,584.2 L1306.3,592.8 L1306.9,601.0 L1307.4,608.4 L1307.9,614.4 L1308.3,619.3 L1308.8,623.8 L1309.2,628.7 L1309.7,634.6 L1310.3,642.4 L1311.0,653.9 L1311.8,668.8 L1312.6,684.9 L1313.4,699.7 L1314.2,710.9 L1315.0,716.2 L1315.7,713.4 L1316.4,704.0 L1317.1,690.9 L1317.7,677.4 L1318.3,666.5 L1318.8,661.3 L1319.2,662.2 L1319.6,666.8 L1319.9,674.1 L1320.2,682.8 L1320.6,691.8 L1321.0,700.0 L1321.5,708.0 L1322.0,716.8 L1322.6,726.0 L1323.2,734.9 L1323.8,743.2 L1324.4,750.2 L1325.0,756.1 L1325.7,761.3 L1326.4,765.7 L1327.1,769.5 L1327.6,772.6 L1328.0,775.0" stroke="#0000f0" stroke-width="3" fill="none" stroke-linejoin="round" shape-rendering="crispEdges"/><path d="M216.0,390.0 L223.0,390.6 L232.6,391.5 L243.9,392.5 L256.2,393.7 L268.5,394.8 L280.0,396.0 L290.9,397.2 L301.9,398.4 L312.9,399.7 L323.8,401.0 L334.6,402.3 L345.0,403.5 L355.0,404.6 L364.7,405.7 L374.2,406.8 L383.6,407.8 L393.2,408.9 L403.0,410.0 L413.1,411.2 L423.3,412.4 L433.7,413.6 L444.1,414.8 L454.6,416.0 L465.0,417.0 L475.4,417.9 L485.8,418.8 L496.2,419.7 L506.7,420.4 L517.3,421.0 L528.0,421.4 L539.5,421.6 L551.9,421.5 L564.3,421.3 L576.1,421.1 L586.6,420.9 L595.0,420.8 L600.7,420.8 L604.2,420.7 L606.4,420.7 L608.0,420.7 L609.9,421.0 L613.0,421.4 L617.2,422.0 L621.9,422.8 L626.8,423.7 L631.9,424.8 L637.0,426.1 L642.0,427.7 L646.8,429.6 L651.7,431.8 L656.5,434.2 L661.4,436.7 L666.2,439.2 L671.0,441.6 L676.0,444.0 L681.1,446.5 L686.3,449.0 L691.2,451.4 L695.8,453.6 L699.7,455.4 L702.9,456.8 L705.4,457.8 L707.5,458.5 L709.4,459.2 L711.5,459.9 L714.0,460.8 L716.9,461.9 L720.2,463.1 L723.5,464.4 L726.8,465.6 L730.1,466.6 L733.0,467.4 L735.7,467.9 L738.1,468.1 L740.5,468.2 L742.7,468.2 L745.0,468.1 L747.3,467.9 L749.7,467.7 L752.0,467.3 L754.4,466.9 L756.7,466.3 L759.0,465.7 L761.4,465.0 L763.8,464.2 L766.3,463.3 L768.8,462.2 L771.2,461.2 L773.5,460.0 L775.6,458.9 L777.4,457.7 L779.1,456.4 L780.6,455.1 L782.0,453.7 L783.5,452.5 L785.0,451.3 L786.5,450.3 L788.1,449.3 L789.6,448.4 L791.1,447.5 L792.8,446.6 L794.5,445.7 L796.4,444.7 L798.5,443.8 L800.6,442.8 L802.7,441.8 L804.8,440.9 L806.8,440.0 L808.6,439.1 L810.4,438.2 L812.0,437.3 L813.7,436.6 L815.4,436.0 L817.3,435.7 L819.3,435.7 L821.5,436.0 L823.7,436.5 L825.9,437.2 L828.0,437.9 L830.0,438.5 L831.8,439.1 L833.5,439.8 L835.2,440.6 L836.8,441.3 L838.4,442.1 L840.0,443.0 L841.7,443.9 L843.3,445.0 L845.0,446.1 L846.7,447.1 L848.3,448.1 L850.0,449.0 L851.7,449.8 L853.3,450.6 L855.0,451.2 L856.7,451.8 L858.3,452.3 L860.0,452.5 L861.7,452.5 L863.4,452.3 L865.1,452.0 L866.8,451.6 L868.4,451.0 L870.0,450.5 L871.5,450.0 L872.9,449.4 L874.2,448.8 L875.5,448.0 L876.7,447.1 L878.0,446.0 L879.2,444.7 L880.3,443.3 L881.3,441.7 L882.4,440.0 L883.6,438.0 L885.0,435.7 L886.6,433.1 L888.3,430.1 L890.2,426.9 L892.0,423.6 L893.9,420.3 L895.6,417.2 L897.2,414.3 L898.8,411.6 L900.4,408.8 L901.9,406.1 L903.4,403.2 L905.0,400.2 L906.6,396.9 L908.2,393.5 L909.7,389.9 L911.3,386.3 L912.9,382.8 L914.5,379.4 L916.1,376.1 L917.7,372.7 L919.3,369.5 L920.8,366.3 L922.4,363.3 L924.0,360.5 L925.6,358.0 L927.1,355.7 L928.7,353.6 L930.3,351.5 L931.8,349.4 L933.4,347.3 L935.0,345.1 L936.6,342.9 L938.1,340.6 L939.7,338.4 L941.3,336.2 L942.9,334.0 L944.5,331.8 L946.0,329.7 L947.6,327.5 L949.2,325.3 L950.7,323.1 L952.3,320.8 L953.9,318.5 L955.4,316.1 L957.0,313.7 L958.5,311.2 L960.0,308.6 L961.5,305.7 L963.0,302.5 L964.5,299.0 L965.9,295.4 L967.4,291.7 L968.7,288.1 L970.0,284.7 L971.2,281.5 L972.3,278.5 L973.3,275.5 L974.3,272.6 L975.2,269.7 L976.2,266.8 L977.1,264.0 L978.1,261.3 L979.0,258.7 L979.8,255.9 L980.7,253.1 L981.5,250.0 L982.3,246.6 L983.0,242.8 L983.8,238.9 L984.5,235.0 L985.2,231.3 L986.0,228.0 L986.9,224.9 L987.8,221.9 L988.7,219.1 L989.7,216.6 L990.5,214.5 L991.2,213.0 L991.7,212.2 L992.1,212.0 L992.4,212.2 L992.6,212.8 L993.0,213.4 L993.5,214.0 L994.2,214.5 L995.0,214.9 L995.9,215.5 L996.8,216.4 L997.7,217.6 L998.7,219.3 L999.7,221.7 L1000.7,224.7 L1001.8,228.0 L1002.9,231.6 L1003.9,235.0 L1005.0,238.2 L1006.0,241.3 L1007.1,244.4 L1008.1,247.4 L1009.2,250.3 L1010.3,252.9 L1011.3,255.0 L1012.3,256.7 L1013.2,258.0 L1014.0,259.0 L1015.0,259.7 L1016.2,260.1 L1017.6,260.3 L1019.4,260.0 L1021.5,259.1 L1023.8,258.0 L1026.1,256.9 L1028.4,256.2 L1030.5,256.0 L1032.4,256.6 L1034.2,257.6 L1035.9,259.0 L1037.6,260.6 L1039.3,262.1 L1041.0,263.4 L1042.8,264.6 L1044.5,266.0 L1046.2,267.3 L1048.0,268.5 L1049.8,269.3 L1051.5,269.7 L1053.2,269.5 L1055.0,269.0 L1056.8,268.1 L1058.5,267.0 L1060.2,265.7 L1062.0,264.5 L1063.8,263.3 L1065.6,262.1 L1067.4,260.7 L1069.1,259.2 L1070.9,257.3 L1072.5,255.0 L1074.0,252.2 L1075.5,248.8 L1077.0,245.2 L1078.3,241.4 L1079.7,237.6 L1081.0,234.0 L1082.3,230.3 L1083.6,226.2 L1084.8,222.1 L1086.0,218.4 L1087.2,215.6 L1088.3,214.0 L1089.4,213.7 L1090.5,214.6 L1091.6,216.2 L1092.6,218.4 L1093.6,220.9 L1094.6,223.5 L1095.5,226.4 L1096.5,229.9 L1097.3,233.7 L1098.2,237.5 L1099.0,241.2 L1099.8,244.5 L1100.5,247.6 L1101.2,250.8 L1101.8,253.8 L1102.5,256.4 L1103.2,258.3 L1104.0,259.2 L1104.9,259.0 L1105.9,257.8 L1107.0,256.0 L1108.1,253.7 L1109.2,251.2 L1110.3,248.7 L1111.3,245.8 L1112.3,242.2 L1113.3,238.4 L1114.3,234.9 L1115.4,232.3 L1116.6,230.9 L1117.9,231.4 L1119.2,233.3 L1120.7,236.1 L1122.1,239.0 L1123.6,241.4 L1125.0,242.4 L1126.4,241.8 L1127.9,239.9 L1129.3,237.4 L1130.8,235.0 L1132.1,233.4 L1133.4,233.0 L1134.6,234.0 L1135.7,235.8 L1136.7,238.3 L1137.7,241.4 L1138.7,244.9 L1139.7,248.7 L1140.7,253.5 L1141.7,259.6 L1142.7,266.1 L1143.8,272.2 L1144.8,277.1 L1145.9,280.0 L1147.1,280.3 L1148.4,278.5 L1149.7,275.5 L1150.9,272.2 L1152.1,269.5 L1153.2,268.2 L1154.1,268.3 L1154.8,268.9 L1155.5,270.1 L1156.1,271.9 L1156.8,274.2 L1157.6,277.0 L1158.5,281.1 L1159.5,286.8 L1160.5,292.9 L1161.5,298.7 L1162.5,303.0 L1163.5,305.0 L1164.5,304.2 L1165.5,301.3 L1166.5,296.9 L1167.5,292.0 L1168.5,287.1 L1169.4,283.0 L1170.2,279.2 L1170.9,274.9 L1171.5,270.6 L1172.2,267.0 L1172.9,264.6 L1173.8,263.8 L1174.9,265.6 L1176.0,269.7 L1177.3,274.9 L1178.6,280.2 L1179.9,284.2 L1181.2,285.9 L1182.4,284.5 L1183.6,280.7 L1184.9,275.8 L1186.1,270.8 L1187.3,266.9 L1188.5,265.3 L1189.7,266.5 L1191.0,269.9 L1192.2,274.3 L1193.5,278.9 L1194.7,282.5 L1195.9,284.4 L1197.0,283.8 L1198.1,281.3 L1199.1,277.9 L1200.1,274.7 L1201.2,272.6 L1202.4,272.6 L1203.7,275.3 L1205.1,280.1 L1206.5,286.1 L1207.9,292.1 L1209.3,297.3 L1210.6,300.6 L1211.7,301.8 L1212.8,301.6 L1213.8,300.5 L1214.8,299.1 L1215.8,297.9 L1217.0,297.6 L1218.3,297.7 L1219.6,297.6 L1221.0,297.8 L1222.4,298.6 L1223.9,300.4 L1225.3,303.5 L1226.8,308.9 L1228.3,316.6 L1229.8,325.2 L1231.4,333.6 L1232.8,340.5 L1234.1,344.7 L1235.3,345.4 L1236.3,343.5 L1237.2,340.1 L1238.1,336.5 L1239.1,333.7 L1240.0,333.0 L1241.0,334.8 L1242.0,338.3 L1243.0,342.7 L1244.0,347.2 L1245.0,351.1 L1245.9,353.5 L1246.7,353.8 L1247.4,352.3 L1248.1,350.2 L1248.8,348.5 L1249.5,348.3 L1250.3,350.6 L1251.2,356.3 L1252.1,364.8 L1253.1,374.8 L1254.0,384.9 L1254.9,394.1 L1255.8,401.0 L1256.6,405.5 L1257.3,408.7 L1258.0,410.9 L1258.6,412.4 L1259.3,413.5 L1260.0,414.7 L1260.7,415.8 L1261.4,416.6 L1262.0,417.1 L1262.7,417.3 L1263.4,417.2 L1264.2,416.8 L1265.0,415.8 L1265.9,414.0 L1266.9,411.9 L1267.8,410.0 L1268.6,408.6 L1269.4,408.4 L1270.1,409.2 L1270.6,410.8 L1271.1,413.0 L1271.6,415.6 L1272.1,418.7 L1272.6,422.0 L1273.1,426.0 L1273.7,430.8 L1274.2,436.0 L1274.7,441.2 L1275.2,445.8 L1275.7,449.4 L1276.1,452.0 L1276.4,454.0 L1276.7,455.5 L1277.0,456.6 L1277.3,457.3 L1277.8,457.8 L1278.4,457.7 L1279.1,456.7 L1279.8,455.5 L1280.6,454.4 L1281.3,453.9 L1282.0,454.6 L1282.6,456.5 L1283.2,459.4 L1283.7,462.9 L1284.2,466.8 L1284.7,470.8 L1285.2,474.6 L1285.6,478.3 L1286.0,482.1 L1286.4,486.1 L1286.7,490.1 L1287.1,494.3 L1287.5,498.7 L1288.0,503.3 L1288.5,508.0 L1289.0,512.9 L1289.5,517.8 L1290.0,522.9 L1290.5,528.0 L1290.9,533.3 L1291.4,538.9 L1291.8,544.5 L1292.1,550.0 L1292.6,555.3 L1293.0,560.0 L1293.5,564.5 L1293.9,569.1 L1294.4,573.3 L1294.9,576.9 L1295.5,579.6 L1296.0,581.0 L1296.6,580.5 L1297.2,578.4 L1297.9,575.2 L1298.6,572.0 L1299.2,569.3 L1299.7,568.0 L1300.2,568.1 L1300.6,569.0 L1300.9,570.4 L1301.3,572.4 L1301.6,574.6 L1301.9,577.0 L1302.2,579.7 L1302.5,582.7 L1302.7,586.1 L1303.0,589.7 L1303.2,593.4 L1303.5,597.0 L1303.8,600.7 L1304.0,604.5 L1304.2,608.4 L1304.5,612.3 L1304.7,616.2 L1305.0,620.0 L1305.3,623.7 L1305.5,627.4 L1305.8,631.1 L1306.1,634.7 L1306.4,638.3 L1306.8,642.0 L1307.2,645.7 L1307.7,649.3 L1308.2,653.0 L1308.7,656.7 L1309.2,660.3 L1309.7,664.0 L1310.2,667.8 L1310.7,671.8 L1311.1,675.7 L1311.6,679.5 L1312.1,683.0 L1312.6,686.0 L1313.1,688.6 L1313.6,690.9 L1314.1,692.8 L1314.6,694.4 L1315.1,695.7 L1315.6,696.5 L1316.1,696.6 L1316.6,695.9 L1317.1,694.8 L1317.6,693.7 L1318.1,693.1 L1318.5,693.5 L1318.8,694.8 L1319.1,696.7 L1319.3,699.2 L1319.5,701.9 L1319.7,704.9 L1320.0,708.0 L1320.3,711.4 L1320.7,715.2 L1321.1,719.3 L1321.4,723.4 L1321.8,727.1 L1322.2,730.3 L1322.6,733.0 L1322.9,735.5 L1323.3,737.6 L1323.7,739.5 L1324.0,740.9 L1324.4,742.0 L1324.8,742.4 L1325.2,742.0 L1325.5,741.3 L1325.9,740.6 L1326.3,740.2 L1326.6,740.6 L1326.9,741.7 L1327.1,743.2 L1327.4,745.1 L1327.6,747.2 L1327.8,749.6 L1328.0,752.0 L1328.2,754.8 L1328.4,758.2 L1328.6,761.7 L1328.8,765.1 L1328.9,768.0 L1329.0,770.0" stroke="#000" stroke-width="4.2" fill="none" stroke-linejoin="round" shape-rendering="crispEdges"/></g><rect x="169" y="752" width="42" height="4" fill="#000"/><rect x="191" y="737" width="20" height="5" fill="#000"/><rect x="191" y="723" width="20" height="5" fill="#000"/><rect x="191" y="708" width="20" height="5" fill="#000"/><rect x="191" y="694" width="20" height="5" fill="#000"/><rect x="191" y="680" width="20" height="5" fill="#000"/><rect x="191" y="665" width="20" height="5" fill="#000"/><rect x="191" y="651" width="20" height="5" fill="#000"/><rect x="191" y="636" width="20" height="5" fill="#000"/><rect x="191" y="622" width="20" height="5" fill="#000"/><rect x="169" y="608" width="42" height="4" fill="#000"/><rect x="191" y="593" width="20" height="5" fill="#000"/><rect x="191" y="579" width="20" height="5" fill="#000"/><rect x="191" y="564" width="20" height="5" fill="#000"/><rect x="191" y="550" width="20" height="5" fill="#000"/><rect x="191" y="536" width="20" height="5" fill="#000"/><rect x="191" y="521" width="20" height="5" fill="#000"/><rect x="191" y="507" width="20" height="5" fill="#000"/><rect x="191" y="492" width="20" height="5" fill="#000"/><rect x="191" y="478" width="20" height="5" fill="#000"/><rect x="169" y="464" width="42" height="4" fill="#000"/><rect x="191" y="449" width="20" height="5" fill="#000"/><rect x="191" y="435" width="20" height="5" fill="#000"/><rect x="191" y="420" width="20" height="5" fill="#000"/><rect x="191" y="406" width="20" height="5" fill="#000"/><rect x="191" y="392" width="20" height="5" fill="#000"/><rect x="191" y="377" width="20" height="5" fill="#000"/><rect x="191" y="363" width="20" height="5" fill="#000"/><rect x="191" y="348" width="20" height="5" fill="#000"/><rect x="191" y="334" width="20" height="5" fill="#000"/><rect x="169" y="320" width="42" height="4" fill="#000"/><rect x="191" y="305" width="20" height="5" fill="#000"/><rect x="191" y="291" width="20" height="5" fill="#000"/><rect x="191" y="276" width="20" height="5" fill="#000"/><rect x="191" y="262" width="20" height="5" fill="#000"/><rect x="191" y="248" width="20" height="5" fill="#000"/><rect x="191" y="233" width="20" height="5" fill="#000"/><rect x="191" y="219" width="20" height="5" fill="#000"/><rect x="191" y="204" width="20" height="5" fill="#000"/><rect x="191" y="190" width="20" height="5" fill="#000"/><rect x="169" y="176" width="42" height="4" fill="#000"/><rect x="191" y="161" width="20" height="5" fill="#000"/><rect x="191" y="147" width="20" height="5" fill="#000"/><rect x="191" y="132" width="20" height="5" fill="#000"/><rect x="191" y="118" width="20" height="5" fill="#000"/><rect x="191" y="104" width="20" height="5" fill="#000"/><rect x="191" y="89" width="20" height="5" fill="#000"/><rect x="191" y="75" width="20" height="5" fill="#000"/><rect x="191" y="60" width="20" height="5" fill="#000"/><rect x="191" y="46" width="20" height="5" fill="#000"/><rect x="169" y="32" width="42" height="4" fill="#000"/><rect x="214" y="759" width="4" height="20" fill="#000"/><rect x="304" y="759" width="4" height="20" fill="#000"/><rect x="368" y="759" width="4" height="20" fill="#000"/><rect x="417" y="759" width="4" height="20" fill="#000"/><rect x="458" y="759" width="4" height="20" fill="#000"/><rect x="492" y="759" width="4" height="20" fill="#000"/><rect x="521" y="759" width="4" height="20" fill="#000"/><rect x="548" y="759" width="4" height="20" fill="#000"/><rect x="570" y="759" width="5" height="42" fill="#000"/><rect x="725" y="759" width="4" height="20" fill="#000"/><rect x="815" y="759" width="4" height="20" fill="#000"/><rect x="879" y="759" width="4" height="20" fill="#000"/><rect x="928" y="759" width="4" height="20" fill="#000"/><rect x="969" y="759" width="4" height="20" fill="#000"/><rect x="1003" y="759" width="4" height="20" fill="#000"/><rect x="1032" y="759" width="4" height="20" fill="#000"/><rect x="1059" y="759" width="4" height="20" fill="#000"/><rect x="1081" y="759" width="5" height="42" fill="#000"/><rect x="1236" y="759" width="4" height="20" fill="#000"/><rect x="1326" y="759" width="4" height="20" fill="#000"/><rect x="1390" y="759" width="4" height="20" fill="#000"/><rect x="1439" y="759" width="4" height="20" fill="#000"/><g transform="translate(159.2,51.6) scale(1,1.04)"><text x="-53.39" y="0" font-family="Liberation Sans, sans-serif" font-size="48" stroke="#000" stroke-width="0.9">30</text></g><g transform="translate(159.2,195.6) scale(1,1.04)"><text x="-53.39" y="0" font-family="Liberation Sans, sans-serif" font-size="48" stroke="#000" stroke-width="0.9">20</text></g><g transform="translate(159.2,339.6) scale(1,1.04)"><text x="-53.39" y="0" font-family="Liberation Sans, sans-serif" font-size="48" stroke="#000" stroke-width="0.9"> 0</text><path d="M-41.10,0.00 L-36.30,0.00 L-36.30,-33.26 L-39.76,-33.26 C-40.62,-30.72 -43.79,-28.42 -48.21,-27.74 L-48.21,-23.86 L-41.10,-23.86 Z" fill="#000" stroke="#000" stroke-width="0.9"/></g><g transform="translate(159.2,483.6) scale(1,1.04)"><text x="-26.70" y="0" font-family="Liberation Sans, sans-serif" font-size="48" stroke="#000" stroke-width="0.9">0</text></g><g transform="translate(159.2,627.6) scale(1,1.04)"><text x="-81.42" y="0" font-family="Liberation Sans, sans-serif" font-size="48" stroke="#000" stroke-width="0.9"><tspan dy="4.80">−</tspan><tspan dy="-4.80">​</tspan> 0</text><path d="M-41.10,0.00 L-36.30,0.00 L-36.30,-33.26 L-39.76,-33.26 C-40.62,-30.72 -43.79,-28.42 -48.21,-27.74 L-48.21,-23.86 L-41.10,-23.86 Z" fill="#000" stroke="#000" stroke-width="0.9"/></g><g transform="translate(159.2,771.6) scale(1,1.04)"><text x="-81.42" y="0" font-family="Liberation Sans, sans-serif" font-size="48" stroke="#000" stroke-width="0.9"><tspan dy="4.80">−</tspan><tspan dy="-4.80">​</tspan>20</text></g><g transform="translate(574.5,845.6) scale(1,1.04)"><text x="-26.31" y="0" font-family="Liberation Sans, sans-serif" font-size="47.3" stroke="#000" stroke-width="0.9"> 0</text><path d="M-14.20,0.00 L-9.47,0.00 L-9.47,-32.78 L-12.87,-32.78 C-13.72,-30.27 -16.85,-28.00 -21.20,-27.34 L-21.20,-23.51 L-14.20,-23.51 Z" fill="#000" stroke="#000" stroke-width="0.9"/></g><g transform="translate(1084.5,845.6) scale(1,1.04)"><text x="-39.46" y="0" font-family="Liberation Sans, sans-serif" font-size="47.3" stroke="#000" stroke-width="0.9"> 00</text><path d="M-27.35,0.00 L-22.62,0.00 L-22.62,-32.78 L-26.03,-32.78 C-26.88,-30.27 -30.00,-28.00 -34.35,-27.34 L-34.35,-23.51 L-27.35,-23.51 Z" fill="#000" stroke="#000" stroke-width="0.9"/></g><g transform="translate(670.5,920.3) scale(1,1.04)"><text x="0.00" y="0" font-family="Liberation Sans, sans-serif" font-size="63.6" stroke="#000" stroke-width="0.9">Freq [mHz]</text></g><g transform="translate(50.5,550.6) rotate(-90) scale(1,1.04)"><text x="0.00" y="0" font-family="Liberation Sans, sans-serif" font-size="63.9" stroke="#000" stroke-width="0.9">Power [dB]</text></g><g transform="translate(245.3,725.3) scale(1,1.04)"><text x="0.00" y="0" font-family="Liberation Sans, sans-serif" font-size="48.0" stroke="#000" stroke-width="0.9">Ending 20 3<tspan dy="4.80">−</tspan><tspan dy="-4.80">​</tspan>03<tspan dy="4.80">−</tspan><tspan dy="-4.80">​</tspan>25  4:50:59</text><path d="M228.48,0.00 L233.28,0.00 L233.28,-33.26 L229.82,-33.26 C228.96,-30.72 225.79,-28.42 221.37,-27.74 L221.37,-23.86 L228.48,-23.86 Z" fill="#000" stroke="#000" stroke-width="0.9"/><path d="M458.05,0.00 L462.85,0.00 L462.85,-33.26 L459.39,-33.26 C458.53,-30.72 455.36,-28.42 450.94,-27.74 L450.94,-23.86 L458.05,-23.86 Z" fill="#000" stroke="#000" stroke-width="0.9"/></g></svg></body></html>
